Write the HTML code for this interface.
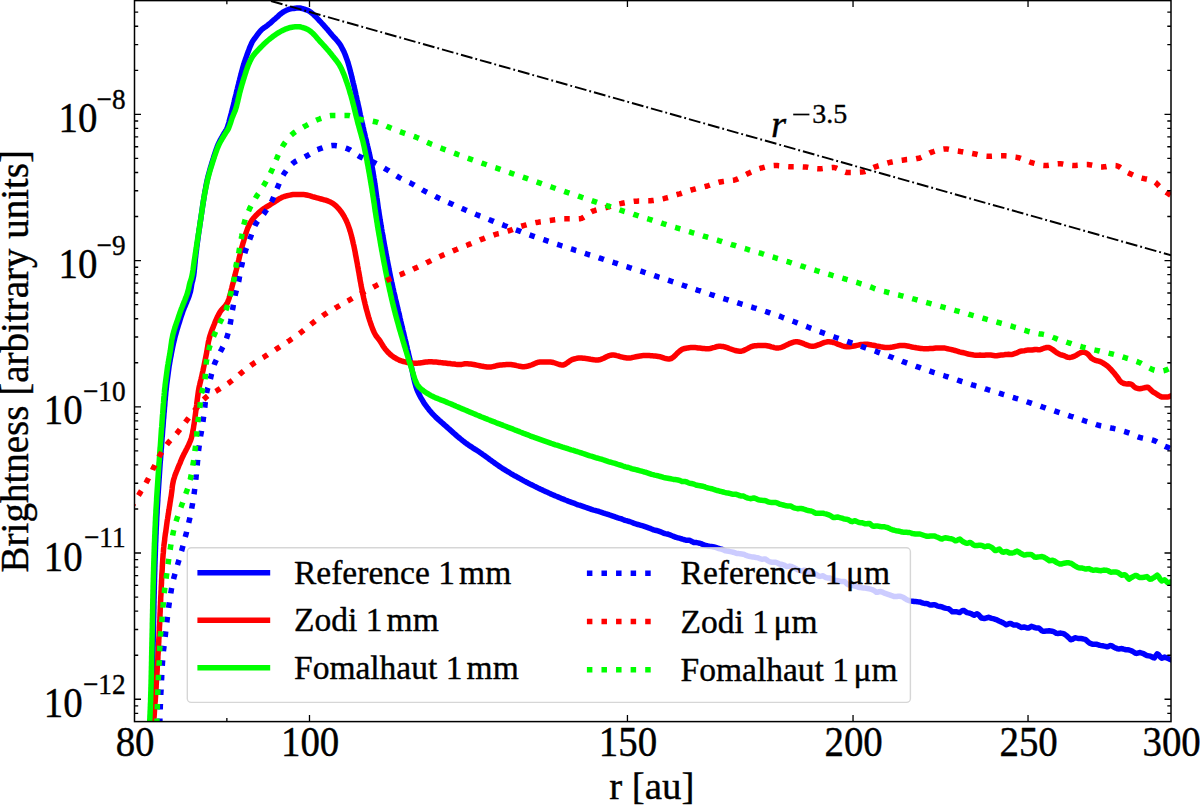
<!DOCTYPE html>
<html><head><meta charset="utf-8"><title>Brightness profiles</title>
<style>
html,body{margin:0;padding:0;background:#fff;}
body{width:1200px;height:807px;overflow:hidden;position:relative;font-family:"Liberation Serif",serif;}
</style></head><body>
<svg width="1200" height="807" viewBox="0 0 1200 807" style="position:absolute;left:0;top:0">
<defs><clipPath id="ax"><rect x="134.5" y="0.6" width="1036.5" height="721.0"/></clipPath></defs>
<rect x="0" y="0" width="1200" height="807" fill="#fff"/>
<g clip-path="url(#ax)" fill="none" stroke-linejoin="round">
<path d="M150.8 724.0L150.9 722.5L150.9 721.0L151.0 719.5L151.1 718.0L151.1 716.5L151.2 715.0L151.3 713.5L151.3 712.0L151.4 710.5L151.5 709.0L151.5 707.5L151.6 706.0L151.6 704.5L151.7 703.0L151.8 701.5L151.8 700.0L151.8 698.5L151.9 697.0L151.9 695.5L152.0 694.0L152.0 692.5L152.1 691.0L152.1 689.5L152.1 688.0L152.2 686.5L152.2 685.0L152.3 683.5L152.3 682.0L152.3 680.5L152.4 679.0L152.4 677.5L152.4 676.0L152.5 674.5L152.5 673.0L152.5 671.5L152.6 670.0L152.6 668.5L152.6 667.0L152.7 665.5L152.7 664.0L152.7 662.5L152.8 661.0L152.8 659.5L152.8 658.0L152.8 656.5L152.9 655.0L152.9 653.5L152.9 651.9L153.0 650.4L153.0 648.9L153.0 647.4L153.1 645.9L153.1 644.4L153.1 642.9L153.2 641.4L153.2 639.9L153.2 638.4L153.3 636.9L153.3 635.4L153.3 633.9L153.4 632.4L153.4 630.9L153.4 629.4L153.5 627.9L153.5 626.4L153.5 624.9L153.5 623.4L153.6 621.9L153.6 620.4L153.6 618.9L153.7 617.4L153.7 615.9L153.7 614.4L153.8 612.9L153.8 611.4L153.8 609.9L153.9 608.4L153.9 606.9L153.9 605.4L153.9 603.9L154.0 602.4L154.0 600.9L154.0 599.4L154.1 597.9L154.1 596.4L154.1 594.9L154.2 593.4L154.2 591.9L154.2 590.4L154.3 588.9L154.3 587.4L154.3 585.9L154.4 584.4L154.4 582.9L154.5 581.4L154.5 579.9L154.5 578.4L154.6 576.9L154.6 575.4L154.7 573.9L154.7 572.4L154.8 570.9L154.8 569.4L154.8 567.9L154.9 566.4L154.9 564.9L155.0 563.4L155.0 561.9L155.1 560.4L155.1 558.9L155.2 557.4L155.2 555.9L155.3 554.4L155.3 552.9L155.4 551.4L155.4 549.9L155.5 548.4L155.5 546.9L155.6 545.4L155.6 543.9L155.7 542.4L155.8 540.9L155.8 539.4L155.9 537.9L155.9 536.4L156.0 534.9L156.1 533.4L156.1 531.9L156.2 530.4L156.2 528.9L156.3 527.4L156.4 525.9L156.5 524.4L156.5 522.9L156.6 521.4L156.7 519.9L156.7 518.4L156.8 516.9L156.9 515.4L157.0 513.9L157.1 512.4L157.1 510.9L157.2 509.4L157.3 507.9L157.4 506.4L157.5 504.9L157.6 503.4L157.7 501.9L157.8 500.4L157.8 498.9L157.9 497.4L158.0 495.9L158.1 494.4L158.2 492.9L158.3 491.4L158.4 489.9L158.5 488.4L158.6 486.9L158.7 485.4L158.8 483.9L158.9 482.4L159.0 480.9L159.1 479.4L159.2 477.9L159.3 476.4L159.4 474.9L159.5 473.4L159.6 471.9L159.7 470.4L159.8 468.9L159.9 467.4L160.0 465.9L160.1 464.4L160.2 462.9L160.3 461.4L160.5 459.9L160.6 458.4L160.7 456.9L160.8 455.4L160.9 453.9L161.0 452.4L161.1 450.9L161.2 449.4L161.4 447.9L161.5 446.4L161.6 444.9L161.7 443.4L161.8 441.9L161.9 440.4L162.0 438.9L162.1 437.4L162.3 435.9L162.4 434.4L162.5 432.9L162.6 431.4L162.7 429.9L162.8 428.5L163.0 427.0L163.1 425.5L163.2 424.0L163.3 422.5L163.4 421.0L163.5 419.5L163.7 418.0L163.8 416.5L163.9 415.0L164.0 413.5L164.2 412.0L164.3 410.5L164.4 409.0L164.5 407.5L164.7 406.0L164.8 404.5L164.9 403.0L165.0 401.5L165.2 400.0L165.3 398.5L165.4 397.0L165.6 395.5L165.7 394.0L165.8 392.5L166.0 391.0L166.2 389.5L166.3 388.1L166.5 386.6L166.6 385.1L166.8 383.6L167.0 382.1L167.2 380.6L167.4 379.1L167.6 377.6L167.8 376.1L168.0 374.6L168.2 373.1L168.4 371.7L168.6 370.2L168.8 368.7L169.0 367.2L169.2 365.7L169.5 364.2L169.7 362.8L170.0 361.3L170.2 359.8L170.5 358.3L170.8 356.8L171.1 355.4L171.3 353.9L171.6 352.4L171.9 350.9L172.2 349.5L172.5 348.0L172.8 346.5L173.1 345.1L173.4 343.6L173.8 342.1L174.1 340.7L174.5 339.2L174.8 337.7L175.2 336.3L175.6 334.8L176.0 333.4L176.4 332.0L176.8 330.5L177.2 329.1L177.7 327.6L178.1 326.2L178.5 324.8L179.0 323.3L179.5 321.9L179.9 320.5L180.4 319.0L180.8 317.6L181.3 316.2L181.8 314.7L182.3 313.3L182.7 311.9L183.2 310.5L183.8 309.1L184.3 307.7L184.9 306.3L185.5 304.9L186.1 303.5L186.7 302.1L187.2 300.7L187.8 299.3L188.4 297.9L188.9 296.5L189.4 295.1L189.8 293.6L190.3 292.2L190.6 290.8L190.9 289.3L191.2 287.8L191.4 286.4L191.6 284.9L191.9 283.4L192.3 281.9L192.7 280.5L193.0 279.0L193.3 277.5L193.6 276.1L193.8 274.6L194.0 273.1L194.2 271.6L194.3 270.1L194.5 268.6L194.6 267.1L194.8 265.6L194.9 264.1L195.1 262.6L195.2 261.1L195.3 259.6L195.5 258.2L195.7 256.7L195.8 255.2L196.0 253.7L196.2 252.2L196.4 250.7L196.6 249.2L196.7 247.7L196.9 246.2L197.1 244.7L197.3 243.2L197.5 241.8L197.7 240.3L197.9 238.8L198.1 237.3L198.3 235.8L198.5 234.3L198.7 232.8L198.9 231.3L199.1 229.9L199.4 228.4L199.6 226.9L199.8 225.4L200.0 223.9L200.2 222.4L200.5 220.9L200.7 219.5L200.9 218.0L201.1 216.5L201.3 215.0L201.6 213.5L201.8 212.0L202.0 210.5L202.2 209.0L202.4 207.6L202.6 206.1L202.9 204.6L203.1 203.1L203.3 201.6L203.6 200.1L203.8 198.7L204.0 197.2L204.3 195.7L204.5 194.2L204.8 192.7L205.0 191.2L205.3 189.8L205.6 188.3L205.8 186.8L206.1 185.3L206.4 183.9L206.7 182.4L207.0 180.9L207.3 179.5L207.7 178.0L208.0 176.5L208.4 175.1L208.8 173.6L209.2 172.2L209.6 170.7L210.0 169.3L210.4 167.8L210.8 166.4L211.3 165.0L211.7 163.5L212.1 162.1L212.6 160.7L213.0 159.2L213.5 157.8L213.9 156.3L214.4 154.9L214.8 153.5L215.3 152.0L215.8 150.6L216.3 149.2L216.8 147.8L217.3 146.4L217.9 145.0L218.5 143.7L219.2 142.3L219.8 141.0L220.5 139.6L221.3 138.3L222.0 137.0L222.7 135.7L223.5 134.4L224.2 133.1L225.1 131.8L225.9 130.5L226.6 129.2L227.2 127.9L227.7 126.5L228.1 125.0L228.6 123.6L229.0 122.1L229.3 120.7L229.7 119.2L230.1 117.7L230.5 116.3L230.9 114.8L231.3 113.4L231.6 111.9L232.0 110.5L232.4 109.0L232.7 107.6L233.1 106.1L233.5 104.7L233.8 103.2L234.2 101.7L234.5 100.3L234.9 98.8L235.2 97.4L235.6 95.9L236.0 94.4L236.3 93.0L236.7 91.5L237.0 90.1L237.4 88.6L237.7 87.2L238.1 85.7L238.5 84.2L238.8 82.8L239.2 81.3L239.6 79.9L239.9 78.4L240.3 77.0L240.7 75.5L241.1 74.0L241.4 72.6L241.8 71.1L242.2 69.7L242.6 68.2L243.0 66.8L243.4 65.4L243.9 63.9L244.3 62.5L244.8 61.1L245.3 59.6L245.8 58.2L246.3 56.8L246.8 55.4L247.3 54.0L247.8 52.6L248.4 51.2L248.9 49.8L249.4 48.3L250.0 46.9L250.6 45.5L251.2 44.2L251.8 42.8L252.5 41.5L253.3 40.3L254.2 39.0L255.1 37.8L256.0 36.6L256.9 35.4L257.8 34.2L258.7 33.0L259.7 31.8L260.6 30.7L261.7 29.6L262.8 28.7L264.0 27.8L265.3 26.9L266.5 26.1L267.7 25.2L268.9 24.2L270.0 23.3L271.2 22.3L272.3 21.2L273.4 20.2L274.5 19.3L275.7 18.3L276.8 17.3L278.0 16.3L279.1 15.2L280.3 14.2L281.5 13.3L282.7 12.4L283.9 11.6L285.2 10.9L286.5 10.3L287.9 9.7L289.4 9.2L290.8 8.8L292.3 8.6L293.8 8.4L295.3 8.2L296.8 8.1L298.3 8.0L299.8 8.1L301.3 8.3L302.7 8.7L304.2 9.1L305.6 9.6L307.1 10.1L308.4 10.7L309.6 11.4L310.8 12.3L312.0 13.2L313.1 14.1L314.2 15.2L315.3 16.3L316.4 17.4L317.4 18.5L318.5 19.7L319.5 20.8L320.6 21.9L321.6 23.0L322.6 24.1L323.6 25.2L324.6 26.3L325.6 27.4L326.6 28.6L327.6 29.7L328.5 30.9L329.5 32.0L330.5 33.2L331.4 34.3L332.4 35.5L333.4 36.6L334.4 37.7L335.5 38.8L336.5 40.0L337.5 41.1L338.4 42.3L339.3 43.4L340.2 44.7L340.9 45.9L341.6 47.2L342.3 48.5L343.0 49.9L343.7 51.2L344.3 52.6L344.9 54.0L345.4 55.4L346.0 56.8L346.5 58.3L347.0 59.7L347.5 61.1L348.0 62.5L348.4 63.9L348.8 65.4L349.2 66.8L349.6 68.3L350.0 69.7L350.4 71.2L350.7 72.7L351.1 74.1L351.5 75.6L351.8 77.0L352.2 78.5L352.5 80.0L352.9 81.4L353.2 82.9L353.6 84.3L353.9 85.8L354.3 87.3L354.6 88.7L354.9 90.2L355.3 91.7L355.6 93.1L355.9 94.6L356.3 96.1L356.6 97.5L356.9 99.0L357.2 100.4L357.6 101.9L357.9 103.4L358.2 104.8L358.5 106.3L358.9 107.8L359.2 109.2L359.5 110.7L359.8 112.2L360.1 113.7L360.4 115.1L360.8 116.6L361.1 118.1L361.4 119.5L361.7 121.0L362.0 122.5L362.4 123.9L362.7 125.4L363.0 126.9L363.4 128.3L363.7 129.8L364.0 131.2L364.4 132.7L364.7 134.2L365.1 135.6L365.4 137.1L365.8 138.6L366.1 140.0L366.5 141.5L366.8 142.9L367.2 144.4L367.5 145.9L367.9 147.3L368.2 148.8L368.6 150.3L368.9 151.7L369.2 153.2L369.6 154.6L369.9 156.1L370.2 157.6L370.5 159.0L370.8 160.5L371.1 162.0L371.4 163.5L371.7 164.9L372.0 166.4L372.3 167.9L372.5 169.3L372.8 170.8L373.1 172.3L373.3 173.8L373.5 175.3L373.8 176.7L374.0 178.2L374.3 179.7L374.5 181.2L374.7 182.7L374.9 184.2L375.2 185.6L375.4 187.1L375.6 188.6L375.8 190.1L376.0 191.6L376.2 193.1L376.4 194.6L376.6 196.1L376.8 197.5L377.1 199.0L377.3 200.5L377.5 202.0L377.7 203.5L377.9 205.0L378.1 206.5L378.3 208.0L378.5 209.5L378.8 210.9L379.0 212.4L379.2 213.9L379.4 215.4L379.7 216.9L379.9 218.4L380.1 219.8L380.4 221.3L380.6 222.8L380.9 224.3L381.1 225.8L381.4 227.2L381.6 228.7L381.9 230.2L382.1 231.7L382.4 233.2L382.7 234.6L382.9 236.1L383.2 237.6L383.4 239.1L383.7 240.6L384.0 242.0L384.2 243.5L384.5 245.0L384.8 246.5L385.0 248.0L385.3 249.4L385.6 250.9L385.8 252.4L386.1 253.9L386.4 255.3L386.7 256.8L386.9 258.3L387.2 259.8L387.5 261.2L387.8 262.7L388.1 264.2L388.4 265.7L388.7 267.1L388.9 268.6L389.2 270.1L389.5 271.6L389.8 273.0L390.1 274.5L390.4 276.0L390.7 277.5L391.0 278.9L391.3 280.4L391.6 281.9L392.0 283.3L392.3 284.8L392.6 286.3L392.9 287.7L393.3 289.2L393.6 290.7L393.9 292.1L394.3 293.6L394.6 295.0L395.0 296.5L395.3 298.0L395.6 299.4L396.0 300.9L396.3 302.3L396.7 303.8L397.0 305.3L397.4 306.7L397.7 308.2L398.1 309.7L398.4 311.1L398.8 312.6L399.1 314.0L399.5 315.5L399.8 317.0L400.1 318.4L400.5 319.9L400.8 321.4L401.2 322.8L401.5 324.3L401.9 325.7L402.2 327.2L402.6 328.7L402.9 330.1L403.3 331.6L403.6 333.0L404.0 334.5L404.3 336.0L404.7 337.4L405.0 338.9L405.4 340.3L405.7 341.8L406.1 343.3L406.4 344.7L406.8 346.2L407.1 347.6L407.4 349.1L407.8 350.6L408.1 352.0L408.5 353.5L408.8 355.0L409.2 356.4L409.5 357.9L409.8 359.3L410.2 360.8L410.5 362.3L410.8 363.8L411.1 365.2L411.4 366.7L411.7 368.2L412.0 369.7L412.3 371.2L412.6 372.7L412.9 374.1L413.2 375.6L413.5 377.1L413.8 378.6L414.2 380.0L414.5 381.5L414.9 382.9L415.3 384.4L415.7 385.8L416.1 387.2L416.6 388.6L417.1 390.0L417.7 391.4L418.3 392.7L419.0 394.1L419.7 395.4L420.4 396.8L421.1 398.1L421.9 399.4L422.7 400.7L423.4 402.0L424.2 403.3L425.1 404.5L425.9 405.7L426.8 406.9L427.7 408.1L428.7 409.3L429.6 410.5L430.6 411.6L431.6 412.8L432.6 413.9L433.6 415.0L434.7 416.0L435.7 417.1L436.8 418.1L437.9 419.1L439.0 420.1L440.2 421.1L441.3 422.1L442.5 423.1L443.6 424.1L444.7 425.1L445.9 426.1L447.0 427.1L448.1 428.1L449.3 429.1L450.4 430.1L451.5 431.1L452.6 432.1L453.7 433.1L454.9 434.1L456.0 435.1L457.1 436.1L458.3 437.1L459.4 438.0L460.6 439.0L461.7 439.9L462.9 440.9L464.1 441.8L465.3 442.7L466.5 443.6L467.7 444.4L468.9 445.3L470.2 446.1L471.4 446.9L472.7 447.8L474.0 448.6L475.2 449.4L476.5 450.2L477.8 451.0L479.0 451.8L480.3 452.7L481.5 453.5L482.7 454.4L484.0 455.3L485.2 456.1L486.4 457.0L487.6 457.9L488.8 458.8L490.0 459.7L491.3 460.6L492.5 461.5L493.7 462.3L494.9 463.2L496.1 464.1L497.4 465.0L498.6 465.8L499.8 466.7L501.1 467.5L502.3 468.3L503.6 469.1L504.9 469.9L506.1 470.7L507.4 471.5L508.7 472.2L510.0 473.0L511.3 473.8L512.6 474.5L513.9 475.3L515.2 476.0L516.5 476.7L517.8 477.5L519.1 478.2L520.4 478.9L521.8 479.7L523.1 480.4L524.4 481.1L525.8 481.8L527.1 482.5L528.4 483.2L529.8 483.9L531.1 484.5L532.5 485.2L533.8 485.9L535.2 486.6L536.5 487.2L537.9 487.9L539.2 488.5L540.6 489.2L541.9 489.8L543.3 490.5L544.6 491.1L546.0 491.7L547.4 492.3L548.7 492.9L550.1 493.6L551.5 494.2L552.8 494.8L554.2 495.4L555.6 496.0L557.0 496.5L558.4 497.1L559.8 497.7L561.1 498.3L562.5 498.8L563.9 499.4L565.3 500.0L566.7 500.5L568.1 501.1L569.5 501.6L570.9 502.1L572.3 502.7L573.8 503.2L575.2 503.7L576.6 504.3L578.0 504.8L579.4 505.2L580.8 505.7L582.2 506.2L583.6 506.7L585.1 507.2L586.5 507.6L587.9 508.1L589.4 508.6L590.8 509.1L592.2 509.7L593.7 510.1L595.1 510.4L596.5 510.8L598.0 511.2L599.4 511.7L600.8 512.1L602.3 512.6L603.7 513.1L605.1 513.5L606.5 514.0L608.0 514.4L609.4 514.9L610.8 515.3L612.2 515.8L613.7 516.3L615.1 516.9L616.5 517.4L617.9 517.9L619.4 518.3L620.8 518.7L622.2 519.2L623.7 519.8L625.1 520.3L626.5 520.7L627.9 521.1L629.4 521.5L630.8 522.0L632.2 522.5L633.6 523.1L635.1 523.7L636.5 524.1L637.9 524.5L639.4 524.9L640.8 525.3L642.2 525.7L643.6 526.1L645.1 526.6L646.5 527.1L647.9 527.6L649.4 528.2L650.8 528.7L652.2 529.3L653.6 529.9L655.1 530.2L656.5 530.5L657.9 530.9L659.3 531.4L660.7 531.9L662.2 532.5L663.6 533.1L665.0 533.6L666.4 533.9L667.9 534.1L669.3 534.7L670.7 535.2L672.1 535.8L673.6 536.4L675.0 537.0L676.4 537.4L677.8 537.8L679.3 538.2L680.7 538.6L682.1 539.0L683.6 539.5L685.0 539.9L686.5 540.3L687.9 540.2L689.4 540.2L690.8 540.9L692.3 541.8L693.7 542.4L695.2 542.5L696.6 542.6L698.1 542.9L699.5 543.2L701.0 543.6L702.4 544.2L703.9 544.9L705.4 545.3L706.8 545.7L708.3 546.1L709.7 546.3L711.2 546.4L712.6 546.7L714.1 547.0L715.6 547.4L717.0 547.9L718.5 548.5L719.9 548.8L721.4 549.2L722.8 549.7L724.3 550.3L725.7 550.8L727.2 551.1L728.7 551.3L730.1 551.6L731.6 551.9L733.0 552.2L734.5 552.7L736.0 553.2L737.4 553.5L738.9 553.6L740.3 553.8L741.8 554.0L743.2 554.2L744.7 554.7L746.2 555.4L747.6 555.9L749.1 556.3L750.5 556.6L752.0 556.9L753.5 557.1L754.9 557.3L756.4 557.6L757.8 557.8L759.3 558.4L760.7 558.9L762.2 559.2L763.6 559.1L765.1 558.9L766.5 559.8L768.0 560.9L769.4 561.6L770.9 562.0L772.3 562.3L773.8 562.3L775.2 562.2L776.7 562.6L778.1 563.3L779.6 564.1L781.0 564.3L782.4 564.5L783.9 565.0L785.3 565.8L786.8 566.6L788.2 566.4L789.7 566.1L791.1 566.4L792.6 567.0L794.0 567.7L795.4 568.5L796.9 569.3L798.3 570.0L799.8 570.5L801.2 571.0L802.6 570.6L804.1 570.3L805.5 570.5L807.0 571.3L808.4 572.1L809.9 572.7L811.3 573.4L812.7 573.8L814.2 574.0L815.6 574.1L817.1 575.1L818.5 576.1L820.0 576.4L821.4 576.1L822.8 575.8L824.3 576.6L825.7 577.5L827.2 577.9L828.6 577.9L830.1 578.0L831.5 579.0L833.0 580.1L834.4 580.6L835.9 580.6L837.3 580.6L838.8 580.9L840.2 581.2L841.7 581.4L843.1 581.4L844.6 581.5L846.0 582.9L847.4 584.3L848.9 584.9L850.3 585.0L851.8 585.2L853.2 585.6L854.7 586.0L856.1 586.5L857.6 587.0L859.0 587.4L860.5 587.6L861.9 587.8L863.4 587.9L864.8 588.0L866.3 588.2L867.7 588.5L869.2 588.8L870.6 589.2L872.1 589.6L873.5 590.2L875.0 591.2L876.4 592.3L877.9 592.2L879.3 591.7L880.8 591.5L882.2 592.1L883.7 592.8L885.1 593.3L886.6 593.8L888.0 594.3L889.5 594.8L890.9 595.4L892.4 595.9L893.8 596.4L895.3 596.6L896.8 596.4L898.2 596.2L899.7 596.3L901.1 596.5L902.6 597.0L904.0 597.9L905.5 598.9L907.0 599.7L908.4 600.4L909.9 600.9L911.3 601.1L912.8 601.3L914.3 601.5L915.7 601.6L917.2 601.7L918.6 601.9L920.1 602.0L921.6 602.6L923.1 603.1L924.5 603.4L926.0 603.5L927.5 603.7L928.9 604.4L930.4 605.1L931.9 605.1L933.3 604.8L934.8 604.8L936.3 605.4L937.7 606.1L939.2 606.4L940.7 606.6L942.2 607.0L943.6 607.6L945.1 608.1L946.6 608.4L948.0 608.6L949.5 609.3L950.9 610.5L952.4 611.8L953.9 611.7L955.3 611.7L956.8 611.8L958.2 612.2L959.7 612.5L961.2 611.4L962.6 610.4L964.1 610.6L965.5 611.7L967.0 612.6L968.4 612.9L969.9 613.2L971.3 613.8L972.8 614.6L974.2 615.2L975.7 614.4L977.1 613.7L978.6 614.7L980.1 616.5L981.5 618.0L983.0 618.3L984.4 618.6L985.9 618.2L987.3 617.6L988.8 617.3L990.2 617.8L991.7 618.3L993.2 618.7L994.6 619.1L996.1 619.6L997.6 620.3L999.0 621.0L1000.5 621.6L1001.9 622.2L1003.4 623.0L1004.9 623.9L1006.4 624.8L1007.8 624.2L1009.3 623.5L1010.8 623.5L1012.2 624.2L1013.7 624.9L1015.2 624.9L1016.7 624.9L1018.1 625.6L1019.6 626.6L1021.1 627.4L1022.6 627.2L1024.1 627.0L1025.5 627.4L1027.0 627.9L1028.5 628.0L1030.0 627.2L1031.4 626.3L1032.9 626.8L1034.4 627.5L1035.9 627.9L1037.3 627.9L1038.8 627.9L1040.3 629.3L1041.8 630.7L1043.2 631.3L1044.7 631.2L1046.2 631.1L1047.6 631.0L1049.1 630.8L1050.5 631.0L1052.0 631.2L1053.5 631.6L1054.9 632.4L1056.4 633.3L1057.8 633.4L1059.3 633.2L1060.7 633.1L1062.2 633.4L1063.6 633.7L1065.1 634.6L1066.5 635.7L1067.9 636.9L1069.4 638.3L1070.8 639.7L1072.3 639.4L1073.7 638.5L1075.2 637.8L1076.6 638.1L1078.0 638.4L1079.5 638.5L1080.9 638.6L1082.4 638.8L1083.8 639.1L1085.3 639.4L1086.7 640.6L1088.1 641.9L1089.6 643.1L1091.0 643.6L1092.5 644.2L1093.9 644.3L1095.4 644.2L1096.9 644.3L1098.3 644.8L1099.8 645.4L1101.2 645.6L1102.7 645.8L1104.2 646.1L1105.6 646.4L1107.1 646.8L1108.6 646.3L1110.0 645.6L1111.5 645.7L1113.0 646.6L1114.4 647.5L1115.9 648.1L1117.4 648.8L1118.8 648.9L1120.3 648.7L1121.8 648.6L1123.3 649.0L1124.7 649.5L1126.2 649.7L1127.7 649.8L1129.2 650.0L1130.6 650.5L1132.1 651.1L1133.6 652.0L1135.1 653.0L1136.5 653.4L1138.0 653.0L1139.5 652.5L1141.0 652.9L1142.5 653.3L1143.9 653.9L1145.4 654.8L1146.9 655.6L1148.4 655.8L1149.8 655.9L1151.3 656.6L1152.8 657.5L1154.3 657.9L1155.7 655.9L1157.2 653.9L1158.7 654.9L1160.2 656.9L1161.7 658.2L1163.1 657.6L1164.6 657.1L1166.1 657.6L1167.6 658.2L1169.0 658.9L1170.5 659.6L1172.0 660.3" stroke="#0000ff" stroke-width="5.5" stroke-linecap="butt"/>
<path d="M153.5 724.0L153.6 722.5L153.7 721.0L153.8 719.5L154.0 718.0L154.1 716.5L154.2 715.0L154.3 713.5L154.4 712.0L154.5 710.5L154.6 709.0L154.7 707.5L154.8 706.0L154.9 704.5L155.0 703.0L155.2 701.5L155.3 700.0L155.4 698.5L155.5 697.0L155.6 695.5L155.7 694.0L155.8 692.5L155.9 691.0L156.0 689.5L156.1 688.0L156.2 686.5L156.2 685.0L156.3 683.5L156.4 682.0L156.5 680.5L156.6 679.0L156.7 677.5L156.8 676.0L156.9 674.5L157.0 673.0L157.1 671.5L157.2 670.0L157.2 668.5L157.3 667.0L157.4 665.5L157.5 664.0L157.6 662.5L157.7 661.0L157.8 659.5L157.9 658.0L157.9 656.5L158.0 655.0L158.1 653.5L158.2 652.0L158.3 650.5L158.4 649.0L158.4 647.5L158.5 646.0L158.6 644.5L158.7 643.0L158.8 641.5L158.8 640.0L158.9 638.5L159.0 637.0L159.1 635.5L159.1 634.0L159.2 632.5L159.3 631.0L159.4 629.5L159.4 628.0L159.5 626.5L159.6 625.0L159.7 623.5L159.7 622.0L159.8 620.5L159.9 619.0L159.9 617.5L160.0 616.0L160.0 614.5L160.1 613.0L160.2 611.5L160.2 610.0L160.3 608.5L160.3 607.0L160.4 605.5L160.5 604.0L160.5 602.5L160.6 601.0L160.7 599.5L160.7 598.0L160.8 596.5L160.9 595.0L161.0 593.5L161.0 592.0L161.1 590.5L161.2 589.0L161.2 587.5L161.3 586.0L161.4 584.5L161.5 583.0L161.5 581.5L161.6 580.0L161.7 578.5L161.8 577.0L161.8 575.5L161.9 574.0L162.0 572.5L162.1 571.0L162.2 569.5L162.3 568.0L162.3 566.5L162.4 565.0L162.5 563.5L162.6 562.0L162.7 560.5L162.8 559.0L162.9 557.5L163.0 556.0L163.1 554.5L163.3 553.0L163.4 551.5L163.5 550.0L163.6 548.5L163.8 547.0L163.9 545.5L164.1 544.1L164.3 542.6L164.5 541.1L164.7 539.6L164.8 538.1L165.0 536.6L165.2 535.1L165.4 533.6L165.7 532.1L165.9 530.6L166.1 529.2L166.3 527.7L166.5 526.2L166.7 524.7L166.9 523.2L167.1 521.7L167.3 520.2L167.6 518.7L167.8 517.3L168.0 515.8L168.3 514.3L168.5 512.8L168.7 511.3L169.0 509.8L169.2 508.4L169.4 506.9L169.7 505.4L169.9 503.9L170.1 502.4L170.4 500.9L170.6 499.4L170.8 498.0L171.1 496.5L171.3 495.0L171.5 493.5L171.7 492.0L171.9 490.5L172.1 489.0L172.2 487.5L172.4 486.0L172.6 484.6L172.9 483.1L173.2 481.6L173.5 480.2L173.9 478.8L174.4 477.3L174.8 475.9L175.3 474.5L175.9 473.1L176.4 471.7L177.0 470.3L177.6 468.8L178.2 467.4L178.7 466.0L179.3 464.6L179.9 463.3L180.5 461.9L181.0 460.5L181.6 459.1L182.2 457.7L182.9 456.3L183.5 455.0L184.2 453.6L184.9 452.3L185.6 450.9L186.3 449.5L187.0 448.2L187.7 446.8L188.4 445.5L189.0 444.1L189.6 442.7L190.2 441.4L190.7 440.0L191.2 438.6L191.6 437.2L191.9 435.7L192.3 434.3L192.6 432.9L192.8 431.4L193.1 429.9L193.4 428.5L193.6 427.0L193.8 425.5L194.1 424.0L194.3 422.5L194.5 421.0L194.7 419.5L194.9 418.0L195.1 416.5L195.3 415.0L195.5 413.5L195.7 412.0L195.9 410.5L196.1 409.0L196.3 407.5L196.5 406.0L196.7 404.5L196.8 403.0L197.0 401.5L197.2 400.1L197.4 398.6L197.6 397.1L197.8 395.6L198.0 394.1L198.2 392.6L198.4 391.1L198.7 389.6L198.9 388.2L199.2 386.7L199.6 385.2L199.9 383.8L200.3 382.3L200.6 380.9L201.0 379.4L201.3 377.9L201.7 376.5L202.0 375.0L202.3 373.5L202.6 372.1L203.0 370.6L203.3 369.1L203.6 367.7L203.9 366.2L204.2 364.7L204.5 363.2L204.8 361.8L205.1 360.3L205.4 358.8L205.7 357.4L206.0 355.9L206.3 354.4L206.6 352.9L206.8 351.4L207.1 350.0L207.3 348.5L207.6 347.0L207.8 345.5L208.1 344.0L208.3 342.5L208.6 341.1L209.0 339.6L209.3 338.2L209.7 336.7L210.1 335.3L210.6 333.9L211.1 332.4L211.6 331.0L212.1 329.6L212.7 328.2L213.3 326.8L213.8 325.4L214.4 324.0L214.9 322.6L215.5 321.2L216.1 319.8L216.7 318.4L217.3 317.1L218.0 315.7L218.7 314.4L219.4 313.1L220.1 311.8L221.0 310.6L222.0 309.4L223.0 308.3L224.1 307.1L225.1 306.0L226.1 304.8L226.9 303.6L227.6 302.4L228.1 301.0L228.6 299.7L229.1 298.3L229.5 296.8L229.9 295.4L230.3 293.9L230.7 292.4L231.0 290.9L231.4 289.4L231.8 287.9L232.1 286.5L232.5 285.0L232.9 283.6L233.3 282.1L233.6 280.6L234.0 279.2L234.4 277.7L234.7 276.3L235.1 274.8L235.4 273.4L235.8 271.9L236.2 270.4L236.5 269.0L236.9 267.5L237.2 266.1L237.6 264.6L238.0 263.1L238.3 261.7L238.7 260.2L239.0 258.8L239.4 257.3L239.7 255.8L240.1 254.4L240.4 252.9L240.8 251.4L241.1 250.0L241.5 248.5L241.9 247.1L242.3 245.6L242.7 244.2L243.1 242.8L243.6 241.3L244.0 239.8L244.4 238.3L244.8 236.9L245.3 235.4L245.7 233.9L246.2 232.5L246.7 231.0L247.2 229.6L247.7 228.2L248.3 226.9L248.9 225.5L249.5 224.2L250.2 223.0L250.9 221.7L251.7 220.5L252.6 219.3L253.6 218.1L254.6 216.9L255.6 215.8L256.7 214.7L257.8 213.6L258.9 212.6L260.0 211.6L261.2 210.6L262.3 209.7L263.5 208.9L264.8 208.0L266.1 207.2L267.4 206.4L268.7 205.6L270.0 204.8L271.2 204.0L272.5 203.2L273.8 202.4L275.1 201.6L276.4 200.7L277.6 199.9L278.9 199.0L280.3 198.3L281.6 197.6L282.9 197.0L284.3 196.5L285.7 196.1L287.1 195.7L288.6 195.4L290.1 195.1L291.6 194.8L293.1 194.6L294.6 194.5L296.1 194.5L297.6 194.5L299.1 194.5L300.6 194.5L302.1 194.5L303.6 194.6L305.1 194.7L306.5 195.0L308.0 195.3L309.5 195.7L310.9 196.1L312.4 196.6L313.9 197.0L315.3 197.4L316.8 197.8L318.2 198.2L319.7 198.6L321.2 199.0L322.7 199.4L324.1 199.8L325.6 200.2L327.0 200.7L328.4 201.2L329.7 201.7L331.0 202.4L332.3 203.1L333.6 204.0L334.8 204.9L336.0 205.9L337.1 207.0L338.1 208.1L339.1 209.2L340.0 210.3L340.9 211.5L341.8 212.7L342.6 214.0L343.4 215.3L344.2 216.6L344.9 218.0L345.6 219.3L346.3 220.7L346.9 222.1L347.5 223.4L348.0 224.8L348.5 226.2L349.0 227.6L349.5 229.0L349.9 230.5L350.4 231.9L350.8 233.4L351.2 234.9L351.6 236.3L351.9 237.8L352.3 239.2L352.7 240.7L353.0 242.2L353.3 243.6L353.7 245.1L354.0 246.5L354.3 248.0L354.6 249.5L354.9 251.0L355.2 252.4L355.4 253.9L355.7 255.4L356.0 256.9L356.3 258.4L356.5 259.8L356.8 261.3L357.1 262.8L357.4 264.3L357.6 265.7L357.9 267.2L358.2 268.7L358.4 270.2L358.7 271.7L359.0 273.1L359.2 274.6L359.5 276.1L359.7 277.6L360.0 279.1L360.2 280.6L360.5 282.0L360.8 283.5L361.0 285.0L361.3 286.5L361.6 287.9L361.9 289.4L362.2 290.9L362.5 292.4L362.8 293.8L363.1 295.3L363.4 296.8L363.7 298.2L364.1 299.7L364.4 301.2L364.8 302.6L365.1 304.1L365.5 305.6L365.8 307.0L366.2 308.5L366.6 309.9L367.0 311.4L367.4 312.8L367.8 314.3L368.2 315.7L368.6 317.1L369.1 318.6L369.5 320.0L370.0 321.5L370.5 322.9L370.9 324.3L371.5 325.8L372.0 327.2L372.5 328.6L373.1 330.0L373.7 331.3L374.3 332.7L375.0 334.0L375.7 335.3L376.6 336.5L377.5 337.7L378.5 338.9L379.4 340.1L380.2 341.3L381.0 342.6L381.8 343.9L382.6 345.2L383.4 346.5L384.2 347.7L385.1 348.9L386.1 350.1L387.1 351.2L388.1 352.4L389.2 353.4L390.3 354.5L391.4 355.4L392.6 356.3L393.8 357.1L395.1 357.9L396.4 358.7L397.8 359.4L399.2 360.1L400.6 360.7L402.0 361.1L403.4 361.5L404.8 361.8L406.3 362.2L407.8 362.5L409.3 362.7L410.8 363.0L412.3 363.1L413.8 363.2L415.3 363.2L416.8 363.2L418.3 363.1L419.8 362.9L421.3 362.7L422.8 362.5L424.3 362.2L425.8 362.0L427.3 361.9L428.8 361.8L430.3 361.8L431.8 361.8L433.3 361.9L434.8 362.0L436.2 362.1L437.7 362.2L439.2 362.4L440.7 362.6L442.2 362.7L443.7 362.9L445.2 363.0L446.7 363.2L448.2 363.4L449.7 363.6L451.2 363.8L452.7 363.9L454.2 364.1L455.7 364.3L457.2 364.4L458.7 364.5L460.2 364.5L461.7 364.4L463.2 364.1L464.7 363.8L466.1 363.8L467.6 363.8L469.1 363.9L470.6 364.1L472.1 364.3L473.6 364.5L475.1 364.8L476.6 365.1L478.1 365.4L479.6 365.7L481.1 366.0L482.5 366.2L484.0 366.5L485.5 366.7L487.0 366.9L488.5 367.0L490.0 367.0L491.4 366.9L492.9 366.6L494.4 366.3L495.8 365.9L497.3 365.5L498.8 365.2L500.3 365.0L501.8 364.9L503.3 364.8L504.8 364.7L506.3 364.6L507.8 364.5L509.3 364.5L510.8 364.5L512.3 364.7L513.8 364.9L515.2 365.2L516.7 365.6L518.2 365.9L519.7 366.3L521.2 366.5L522.6 366.7L524.1 366.7L525.6 366.6L527.1 366.3L528.5 365.9L530.0 365.5L531.4 365.0L532.9 364.4L534.3 363.8L535.7 363.1L537.1 362.6L538.5 362.2L539.9 362.0L541.4 362.0L542.9 362.0L544.4 362.0L545.9 362.0L547.4 362.0L548.9 362.0L550.4 362.0L551.9 362.2L553.4 362.5L554.9 363.0L556.4 363.5L557.8 364.0L559.3 364.5L560.7 364.8L562.1 365.0L563.5 364.9L564.8 364.4L566.1 363.6L567.4 362.7L568.7 361.7L570.0 360.8L571.3 360.0L572.7 359.4L574.1 359.0L575.6 358.6L577.1 358.3L578.6 358.1L580.1 358.0L581.6 358.0L583.1 358.2L584.6 358.3L586.1 358.6L587.6 358.8L589.1 359.0L590.6 359.3L592.1 359.5L593.6 359.7L595.0 359.9L596.5 360.0L598.0 360.0L599.4 359.8L600.8 359.4L602.3 358.8L603.7 358.2L605.1 357.5L606.5 356.8L607.9 356.1L609.3 355.6L610.8 355.2L612.2 355.0L613.7 355.1L615.1 355.2L616.6 355.6L618.1 355.9L619.5 356.4L621.0 356.8L622.5 357.2L624.0 357.6L625.5 357.8L626.9 358.0L628.4 358.0L629.9 357.9L631.4 357.7L632.9 357.4L634.3 357.1L635.8 356.8L637.3 356.5L638.8 356.2L640.3 355.9L641.8 355.7L643.3 355.6L644.8 355.5L646.3 355.5L647.8 355.5L649.3 355.6L650.8 355.7L652.3 355.8L653.8 355.9L655.3 356.0L656.8 356.2L658.3 356.4L659.8 356.7L661.3 357.1L662.7 357.6L664.2 358.1L665.7 358.5L667.1 358.8L668.5 359.0L669.8 358.9L671.1 358.5L672.3 357.8L673.6 356.9L674.8 355.8L675.9 354.6L677.1 353.4L678.3 352.3L679.5 351.2L680.8 350.2L682.0 349.4L683.4 348.9L684.7 348.5L686.2 348.2L687.7 347.9L689.2 347.7L690.7 347.6L692.2 347.5L693.7 347.5L695.2 347.6L696.7 347.7L698.2 347.9L699.7 348.1L701.2 348.3L702.7 348.5L704.2 348.6L705.7 348.7L707.2 348.7L708.7 348.7L710.2 348.5L711.7 348.1L713.1 347.7L714.6 347.3L716.1 346.8L717.5 346.5L719.0 346.3L720.5 346.3L721.9 346.4L723.4 346.6L724.9 347.0L726.3 347.4L727.8 347.9L729.3 348.5L730.7 349.0L732.2 349.5L733.6 350.0L735.1 350.5L736.5 350.8L738.0 351.1L739.4 351.2L740.9 351.2L742.3 350.9L743.7 350.5L745.1 349.8L746.5 349.1L747.9 348.4L749.3 347.6L750.7 346.9L752.1 346.4L753.5 346.0L755.0 345.8L756.4 345.7L757.9 345.6L759.4 345.6L760.9 345.5L762.5 345.5L764.0 345.5L765.5 345.5L766.9 345.7L768.4 346.0L769.9 346.3L771.4 346.8L772.9 347.2L774.3 347.6L775.8 347.9L777.2 348.0L778.7 347.9L780.1 347.7L781.6 347.3L783.0 346.7L784.4 346.1L785.8 345.4L787.2 344.7L788.7 344.0L790.1 343.3L791.5 342.8L792.9 342.3L794.3 341.9L795.8 341.8L797.2 341.8L798.6 342.0L800.1 342.4L801.5 342.9L803.0 343.4L804.4 344.0L805.9 344.6L807.3 345.2L808.8 345.7L810.2 346.0L811.7 346.2L813.1 346.2L814.6 346.0L816.0 345.7L817.5 345.2L818.9 344.7L820.4 344.1L821.8 343.5L823.3 342.9L824.7 342.4L826.2 342.1L827.6 341.8L829.1 341.8L830.5 341.9L832.0 342.1L833.4 342.5L834.9 343.0L836.3 343.5L837.7 344.1L839.2 344.7L840.6 345.2L842.1 345.8L843.6 346.2L845.0 346.5L846.5 346.7L847.9 346.7L849.4 346.7L850.9 346.5L852.4 346.3L853.9 346.0L855.4 345.7L856.8 345.4L858.3 345.1L859.8 344.8L861.3 344.5L862.8 344.4L864.3 344.3L865.8 344.3L867.3 344.3L868.8 344.5L870.3 344.7L871.7 345.0L873.2 345.2L874.7 345.5L876.2 345.9L877.7 346.2L879.2 346.5L880.7 346.8L882.1 347.0L883.6 347.2L885.1 347.4L886.6 347.5L888.1 347.5L889.6 347.4L891.1 347.2L892.6 347.0L894.1 346.7L895.5 346.4L897.0 346.1L898.5 345.8L900.0 345.6L901.5 345.5L903.0 345.5L904.5 345.6L906.0 345.8L907.4 346.0L908.9 346.3L910.4 346.6L911.9 347.0L913.4 347.3L914.9 347.5L916.3 347.8L917.8 348.0L919.3 348.2L920.8 348.4L922.3 348.6L923.8 348.7L925.3 348.7L926.8 348.7L928.3 348.7L929.8 348.6L931.3 348.5L932.8 348.4L934.3 348.2L935.8 348.0L937.3 348.0L938.8 347.9L940.3 347.9L941.8 347.9L943.3 347.9L944.8 348.1L946.2 348.4L947.7 348.8L949.2 349.1L950.6 349.4L952.1 349.7L953.5 350.1L955.0 350.5L956.4 350.9L957.9 351.3L959.4 351.8L960.8 352.2L962.3 352.5L963.8 352.8L965.2 353.2L966.7 353.6L968.2 354.0L969.6 354.3L971.1 354.6L972.6 354.8L974.1 355.1L975.5 355.3L977.0 355.3L978.5 355.2L980.0 355.1L981.5 355.2L983.0 355.3L984.5 355.3L986.1 355.1L987.6 354.9L989.1 354.9L990.6 355.1L992.1 355.3L993.6 355.5L995.1 355.7L996.6 355.8L998.1 355.5L999.6 355.2L1001.1 355.0L1002.6 354.9L1004.1 354.8L1005.6 354.6L1007.1 354.4L1008.6 354.3L1010.1 354.4L1011.5 354.4L1013.0 354.2L1014.5 353.7L1015.9 353.2L1017.4 352.6L1018.8 351.9L1020.2 351.3L1021.7 351.1L1023.1 350.9L1024.6 350.7L1026.1 350.3L1027.5 350.1L1029.0 350.0L1030.5 350.0L1032.0 350.1L1033.5 349.8L1035.0 349.5L1036.5 349.4L1038.0 349.7L1039.5 349.8L1041.0 349.4L1042.5 348.8L1044.0 348.2L1045.5 347.8L1046.9 347.5L1048.3 347.5L1049.6 347.8L1050.9 348.5L1052.2 349.3L1053.5 350.3L1054.8 351.3L1056.1 352.2L1057.5 353.1L1058.8 353.8L1060.3 354.6L1061.7 355.0L1063.1 355.4L1064.6 355.9L1066.0 356.6L1067.5 357.2L1068.9 357.4L1070.3 357.4L1071.8 357.1L1073.2 356.6L1074.6 356.1L1076.0 355.4L1077.4 354.5L1078.8 353.6L1080.2 352.9L1081.5 352.4L1082.9 352.1L1084.1 352.3L1085.4 352.6L1086.6 353.2L1087.8 354.0L1089.0 355.4L1090.2 356.9L1091.5 358.2L1092.8 359.1L1094.2 359.8L1095.6 360.4L1097.1 360.8L1098.6 361.1L1100.0 361.5L1101.4 362.1L1102.7 362.8L1103.9 363.7L1105.1 364.4L1106.3 365.2L1107.4 366.0L1108.5 367.0L1109.6 368.1L1110.7 369.2L1111.7 370.3L1112.6 371.4L1113.6 372.5L1114.5 373.6L1115.4 374.7L1116.4 375.9L1117.5 377.4L1118.5 378.9L1119.6 380.5L1120.7 381.6L1121.9 382.5L1123.1 383.1L1124.3 383.6L1125.6 383.8L1127.1 383.9L1128.7 383.8L1130.1 383.9L1131.5 384.3L1132.8 385.4L1134.0 386.6L1135.3 387.6L1136.7 388.1L1138.2 388.5L1139.7 388.8L1141.2 388.6L1142.8 388.2L1144.3 387.8L1145.8 387.5L1147.2 387.2L1148.6 387.7L1149.9 388.9L1151.2 390.3L1152.5 391.5L1153.8 392.4L1155.2 393.2L1156.5 394.0L1157.7 394.9L1159.0 395.7L1160.3 396.4L1161.6 396.9L1163.0 396.9L1164.4 396.9L1165.9 396.9L1167.4 396.9L1168.9 396.7L1170.4 396.1L1172.0 395.4" stroke="#ff0000" stroke-width="5.5" stroke-linecap="butt"/>
<path d="M149.6 724.0L149.7 722.5L149.7 721.0L149.8 719.5L149.9 718.0L149.9 716.5L150.0 715.0L150.1 713.5L150.1 712.0L150.2 710.5L150.3 709.0L150.3 707.5L150.4 706.0L150.4 704.5L150.5 703.0L150.6 701.5L150.6 700.0L150.6 698.5L150.7 697.0L150.7 695.5L150.8 694.0L150.8 692.5L150.9 691.0L150.9 689.5L150.9 688.0L151.0 686.5L151.0 685.0L151.1 683.5L151.1 682.0L151.1 680.5L151.2 679.0L151.2 677.5L151.2 676.0L151.3 674.5L151.3 673.0L151.3 671.5L151.4 670.0L151.4 668.5L151.4 667.0L151.5 665.5L151.5 664.0L151.5 662.5L151.6 661.0L151.6 659.5L151.6 658.0L151.6 656.5L151.7 655.0L151.7 653.5L151.7 652.0L151.8 650.5L151.8 649.0L151.8 647.4L151.9 645.9L151.9 644.4L151.9 642.9L152.0 641.4L152.0 639.9L152.0 638.4L152.1 636.9L152.1 635.4L152.1 633.9L152.2 632.4L152.2 630.9L152.2 629.4L152.3 627.9L152.3 626.4L152.3 624.9L152.3 623.4L152.4 621.9L152.4 620.4L152.4 618.9L152.5 617.4L152.5 615.9L152.5 614.4L152.6 612.9L152.6 611.4L152.6 609.9L152.7 608.4L152.7 606.9L152.7 605.4L152.7 603.9L152.8 602.4L152.8 600.9L152.8 599.4L152.9 597.9L152.9 596.4L152.9 594.9L153.0 593.4L153.0 591.9L153.0 590.4L153.1 588.9L153.1 587.4L153.1 585.9L153.2 584.4L153.2 582.9L153.3 581.4L153.3 579.9L153.3 578.4L153.4 576.9L153.4 575.4L153.5 573.9L153.5 572.4L153.6 570.9L153.6 569.4L153.6 567.9L153.7 566.4L153.7 564.9L153.8 563.4L153.8 561.9L153.9 560.4L153.9 558.9L154.0 557.4L154.0 555.9L154.1 554.4L154.1 552.9L154.2 551.4L154.2 549.9L154.3 548.4L154.3 546.9L154.4 545.4L154.4 543.9L154.5 542.4L154.6 540.9L154.6 539.4L154.7 537.9L154.7 536.4L154.8 534.9L154.9 533.4L154.9 531.9L155.0 530.4L155.0 528.9L155.1 527.4L155.2 525.9L155.3 524.4L155.3 522.9L155.4 521.4L155.5 519.9L155.5 518.4L155.6 516.9L155.7 515.4L155.8 513.9L155.9 512.4L155.9 510.9L156.0 509.4L156.1 507.9L156.2 506.4L156.3 504.9L156.4 503.4L156.5 501.9L156.6 500.4L156.6 498.9L156.7 497.4L156.8 495.9L156.9 494.4L157.0 492.9L157.1 491.4L157.2 489.9L157.3 488.4L157.4 486.9L157.5 485.4L157.6 483.9L157.7 482.4L157.8 480.9L157.9 479.4L158.0 477.9L158.1 476.4L158.2 474.9L158.3 473.4L158.4 471.9L158.5 470.4L158.6 468.9L158.7 467.4L158.8 465.9L158.9 464.4L159.0 462.9L159.2 461.4L159.3 459.9L159.4 458.4L159.5 456.9L159.6 455.4L159.7 453.9L159.8 452.4L159.9 450.9L160.0 449.4L160.1 447.9L160.3 446.4L160.4 444.9L160.5 443.4L160.6 441.9L160.7 440.4L160.8 438.9L160.9 437.4L161.0 435.9L161.1 434.4L161.2 433.0L161.3 431.5L161.4 430.0L161.5 428.5L161.7 427.0L161.8 425.5L161.9 424.0L162.0 422.5L162.1 421.0L162.2 419.5L162.3 418.0L162.4 416.5L162.5 415.0L162.7 413.5L162.8 412.0L162.9 410.5L163.0 409.0L163.1 407.5L163.2 406.0L163.3 404.5L163.5 403.0L163.6 401.5L163.7 400.0L163.8 398.5L163.9 397.0L164.1 395.5L164.2 394.0L164.4 392.5L164.5 391.0L164.6 389.5L164.8 388.0L165.0 386.6L165.1 385.1L165.3 383.6L165.5 382.1L165.7 380.6L165.9 379.1L166.1 377.6L166.3 376.1L166.5 374.6L166.7 373.1L166.9 371.7L167.1 370.2L167.3 368.7L167.5 367.2L167.7 365.7L168.0 364.2L168.2 362.7L168.5 361.3L168.7 359.8L169.0 358.3L169.3 356.8L169.5 355.4L169.8 353.9L170.0 352.4L170.3 350.9L170.5 349.4L170.7 347.9L170.9 346.4L171.1 345.0L171.3 343.5L171.5 342.0L171.7 340.5L172.0 339.0L172.3 337.6L172.6 336.1L172.9 334.6L173.3 333.2L173.7 331.7L174.1 330.3L174.5 328.9L175.0 327.4L175.4 326.0L175.9 324.6L176.4 323.1L176.9 321.7L177.4 320.3L177.9 318.8L178.4 317.4L178.8 316.0L179.3 314.6L179.8 313.1L180.3 311.7L180.8 310.3L181.3 308.9L181.9 307.5L182.4 306.1L183.0 304.7L183.5 303.3L184.1 301.9L184.7 300.5L185.2 299.1L185.8 297.7L186.3 296.3L186.8 294.9L187.3 293.5L187.7 292.0L188.1 290.6L188.5 289.2L188.8 287.7L189.1 286.2L189.4 284.7L189.8 283.3L190.2 281.8L190.7 280.4L191.2 279.0L191.6 277.5L191.9 276.1L192.2 274.6L192.5 273.2L192.7 271.7L193.0 270.2L193.2 268.7L193.4 267.2L193.6 265.7L193.8 264.2L194.0 262.7L194.2 261.2L194.4 259.8L194.7 258.3L194.9 256.8L195.1 255.3L195.3 253.8L195.6 252.3L195.8 250.8L196.0 249.4L196.3 247.9L196.5 246.4L196.7 244.9L197.0 243.4L197.2 241.9L197.4 240.5L197.6 239.0L197.9 237.5L198.1 236.0L198.3 234.5L198.6 233.0L198.8 231.6L199.0 230.1L199.3 228.6L199.5 227.1L199.7 225.6L200.0 224.1L200.2 222.7L200.4 221.2L200.6 219.7L200.9 218.2L201.1 216.7L201.3 215.2L201.5 213.7L201.7 212.3L202.0 210.8L202.2 209.3L202.4 207.8L202.6 206.3L202.8 204.8L203.0 203.3L203.3 201.9L203.5 200.4L203.8 198.9L204.0 197.4L204.3 195.9L204.5 194.5L204.8 193.0L205.1 191.5L205.4 190.0L205.7 188.5L206.0 187.1L206.3 185.6L206.6 184.1L206.9 182.7L207.2 181.2L207.6 179.7L207.9 178.3L208.3 176.8L208.7 175.4L209.1 173.9L209.5 172.5L209.9 171.1L210.3 169.6L210.8 168.2L211.2 166.7L211.7 165.3L212.1 163.9L212.6 162.4L213.0 161.0L213.5 159.6L214.0 158.2L214.4 156.7L214.9 155.3L215.4 153.9L215.9 152.4L216.4 151.0L216.9 149.6L217.4 148.2L218.0 146.8L218.6 145.5L219.2 144.1L219.9 142.8L220.6 141.5L221.4 140.1L222.1 138.8L222.9 137.5L223.7 136.2L224.4 135.0L225.2 133.7L226.0 132.4L226.9 131.1L227.7 129.9L228.4 128.6L229.0 127.2L229.5 125.8L230.0 124.4L230.5 123.0L231.0 121.5L231.4 120.1L231.9 118.7L232.4 117.2L233.0 115.8L233.5 114.5L234.1 113.1L234.7 111.7L235.3 110.3L235.7 108.9L236.2 107.4L236.6 106.0L236.9 104.6L237.3 103.1L237.7 101.6L238.0 100.2L238.3 98.7L238.7 97.2L239.0 95.8L239.4 94.3L239.7 92.8L240.1 91.4L240.5 89.9L240.9 88.5L241.3 87.0L241.7 85.6L242.1 84.2L242.6 82.7L243.0 81.3L243.4 79.8L243.9 78.4L244.3 77.0L244.8 75.5L245.2 74.1L245.7 72.7L246.1 71.2L246.6 69.8L247.1 68.4L247.6 67.0L248.1 65.6L248.7 64.2L249.3 62.8L249.9 61.4L250.6 60.1L251.3 58.7L252.0 57.4L252.8 56.2L253.7 55.0L254.6 53.8L255.6 52.7L256.6 51.6L257.7 50.5L258.7 49.4L259.8 48.3L260.8 47.2L261.9 46.1L262.9 45.1L264.0 44.0L265.1 43.0L266.2 42.0L267.3 41.0L268.5 40.0L269.6 39.1L270.8 38.1L272.0 37.2L273.2 36.3L274.4 35.4L275.7 34.5L276.9 33.7L278.2 32.9L279.5 32.1L280.8 31.4L282.1 30.7L283.5 30.0L284.8 29.4L286.2 28.8L287.6 28.3L289.1 27.8L290.5 27.5L292.0 27.2L293.5 26.9L295.0 26.8L296.5 26.8L298.0 26.7L299.5 26.7L300.9 27.0L302.4 27.5L303.8 27.9L305.3 28.4L306.7 29.0L308.0 29.7L309.2 30.4L310.4 31.3L311.6 32.2L312.7 33.2L313.7 34.3L314.8 35.4L315.8 36.5L316.8 37.7L317.8 38.9L318.8 40.0L319.8 41.2L320.8 42.3L321.9 43.4L322.9 44.5L323.9 45.6L324.9 46.7L325.9 47.8L326.9 49.0L327.9 50.1L328.9 51.2L329.8 52.4L330.8 53.6L331.7 54.7L332.6 55.9L333.6 57.1L334.5 58.3L335.5 59.5L336.4 60.7L337.3 61.9L338.2 63.1L339.0 64.3L339.8 65.6L340.5 66.9L341.2 68.2L341.8 69.5L342.4 70.9L343.0 72.3L343.6 73.7L344.2 75.1L344.7 76.5L345.2 77.9L345.7 79.3L346.2 80.8L346.7 82.2L347.2 83.6L347.7 85.0L348.2 86.5L348.6 87.9L349.1 89.3L349.5 90.8L349.9 92.2L350.3 93.7L350.8 95.1L351.2 96.5L351.6 98.0L352.0 99.4L352.4 100.9L352.7 102.3L353.1 103.8L353.5 105.2L353.9 106.7L354.2 108.2L354.6 109.6L354.9 111.1L355.3 112.5L355.6 114.0L356.0 115.5L356.3 116.9L356.7 118.4L357.1 119.8L357.4 121.3L357.8 122.7L358.2 124.2L358.6 125.6L359.0 127.1L359.4 128.5L359.8 130.0L360.2 131.4L360.6 132.9L361.0 134.3L361.4 135.8L361.8 137.2L362.2 138.7L362.6 140.1L363.0 141.6L363.3 143.0L363.6 144.5L364.0 146.0L364.3 147.4L364.6 148.9L364.9 150.4L365.2 151.8L365.5 153.3L365.8 154.8L366.1 156.2L366.4 157.7L366.7 159.2L367.0 160.7L367.2 162.1L367.5 163.6L367.8 165.1L368.1 166.6L368.3 168.1L368.6 169.5L368.8 171.0L369.1 172.5L369.4 174.0L369.6 175.5L369.9 176.9L370.1 178.4L370.4 179.9L370.6 181.4L370.9 182.9L371.1 184.4L371.4 185.8L371.6 187.3L371.9 188.8L372.1 190.3L372.3 191.8L372.6 193.2L372.8 194.7L373.0 196.2L373.3 197.7L373.5 199.2L373.7 200.7L373.9 202.2L374.2 203.6L374.4 205.1L374.6 206.6L374.8 208.1L375.0 209.6L375.2 211.1L375.5 212.6L375.7 214.0L375.9 215.5L376.1 217.0L376.4 218.5L376.6 220.0L376.8 221.5L377.1 222.9L377.3 224.4L377.5 225.9L377.8 227.4L378.0 228.9L378.3 230.4L378.5 231.8L378.8 233.3L379.0 234.8L379.3 236.3L379.6 237.8L379.8 239.2L380.1 240.7L380.3 242.2L380.6 243.7L380.8 245.2L381.1 246.6L381.4 248.1L381.6 249.6L381.9 251.1L382.2 252.5L382.4 254.0L382.7 255.5L383.0 257.0L383.3 258.5L383.5 259.9L383.8 261.4L384.1 262.9L384.4 264.4L384.7 265.8L385.0 267.3L385.2 268.8L385.5 270.3L385.8 271.7L386.1 273.2L386.4 274.7L386.7 276.1L387.0 277.6L387.3 279.1L387.6 280.6L387.9 282.0L388.2 283.5L388.5 285.0L388.9 286.4L389.2 287.9L389.5 289.4L389.8 290.8L390.2 292.3L390.5 293.8L390.8 295.2L391.2 296.7L391.5 298.2L391.8 299.6L392.2 301.1L392.5 302.5L392.9 304.0L393.2 305.5L393.6 306.9L394.0 308.4L394.3 309.8L394.7 311.3L395.1 312.7L395.4 314.2L395.8 315.6L396.2 317.1L396.6 318.5L397.0 320.0L397.4 321.4L397.8 322.9L398.2 324.3L398.6 325.8L399.0 327.2L399.4 328.7L399.8 330.1L400.3 331.6L400.7 333.0L401.1 334.4L401.5 335.9L402.0 337.3L402.4 338.8L402.8 340.2L403.2 341.6L403.7 343.1L404.1 344.5L404.5 346.0L405.0 347.4L405.4 348.8L405.8 350.3L406.3 351.7L406.7 353.1L407.1 354.6L407.6 356.0L408.0 357.5L408.5 358.9L408.9 360.3L409.4 361.8L409.8 363.2L410.3 364.6L410.8 366.0L411.2 367.5L411.7 368.9L412.1 370.4L412.6 371.9L413.0 373.4L413.5 374.9L413.9 376.4L414.4 377.9L414.9 379.3L415.4 380.7L416.0 382.1L416.6 383.3L417.2 384.5L418.0 385.7L418.8 386.8L419.8 387.8L420.9 388.8L422.1 389.8L423.4 390.8L424.7 391.7L426.0 392.6L427.3 393.4L428.6 394.2L429.9 395.0L431.2 395.7L432.5 396.3L433.9 397.0L435.2 397.6L436.6 398.2L438.0 398.7L439.4 399.3L440.8 399.9L442.2 400.4L443.7 400.9L445.1 401.5L446.5 402.1L447.9 402.7L449.2 403.2L450.6 403.8L452.0 404.4L453.4 405.0L454.8 405.6L456.1 406.2L457.5 406.8L458.9 407.4L460.3 408.0L461.7 408.6L463.0 409.2L464.4 409.7L465.8 410.3L467.2 410.9L468.6 411.5L470.0 412.1L471.3 412.7L472.7 413.2L474.1 413.8L475.5 414.4L476.9 415.0L478.3 415.5L479.7 416.1L481.1 416.7L482.4 417.2L483.8 417.8L485.2 418.4L486.6 418.9L488.0 419.5L489.4 420.0L490.8 420.6L492.2 421.1L493.6 421.7L495.0 422.2L496.4 422.8L497.8 423.3L499.2 423.8L500.6 424.4L502.0 424.9L503.4 425.5L504.8 426.0L506.2 426.5L507.6 427.1L509.0 427.6L510.4 428.2L511.8 428.7L513.2 429.2L514.6 429.8L516.0 430.3L517.4 430.9L518.8 431.4L520.2 432.0L521.6 432.5L523.0 433.1L524.4 433.6L525.8 434.1L527.2 434.7L528.6 435.2L530.0 435.8L531.4 436.3L532.8 436.8L534.3 437.4L535.7 437.9L537.1 438.4L538.5 438.9L539.9 439.4L541.3 439.9L542.7 440.4L544.1 440.9L545.5 441.4L547.0 441.9L548.4 442.4L549.8 442.9L551.2 443.4L552.7 443.8L554.1 444.3L555.5 444.8L556.9 445.2L558.4 445.7L559.8 446.2L561.2 446.6L562.7 447.1L564.1 447.5L565.5 448.0L567.0 448.4L568.4 448.9L569.8 449.3L571.3 449.8L572.7 450.2L574.1 450.6L575.6 451.1L577.0 451.5L578.4 452.0L579.9 452.5L581.3 452.9L582.7 453.4L584.2 453.8L585.6 454.3L587.0 454.8L588.4 455.3L589.9 455.8L591.3 456.2L592.7 456.6L594.2 457.1L595.6 457.6L597.0 458.0L598.5 458.4L599.9 458.8L601.3 459.2L602.8 459.7L604.2 460.1L605.6 460.6L607.1 461.1L608.5 461.6L609.9 462.0L611.4 462.4L612.8 462.8L614.2 463.2L615.7 463.7L617.1 464.2L618.6 464.6L620.0 465.0L621.4 465.4L622.9 466.0L624.3 466.5L625.7 466.9L627.2 467.2L628.6 467.5L630.1 468.0L631.5 468.6L633.0 469.0L634.4 469.3L635.8 469.6L637.3 470.0L638.7 470.4L640.2 470.8L641.6 471.2L643.1 471.6L644.5 472.0L645.9 472.3L647.4 472.8L648.8 473.3L650.3 473.8L651.7 474.3L653.2 474.7L654.6 475.1L656.1 475.4L657.6 475.7L659.0 476.1L660.5 476.5L661.9 476.9L663.4 477.4L664.9 477.8L666.3 478.0L667.8 478.2L669.2 478.5L670.7 478.8L672.2 479.1L673.6 479.4L675.1 479.6L676.6 479.8L678.0 480.0L679.5 480.4L681.0 481.0L682.4 481.6L683.9 481.6L685.4 481.6L686.8 482.0L688.3 482.7L689.7 483.3L691.2 483.5L692.7 483.8L694.1 484.2L695.6 484.8L697.0 485.3L698.5 485.5L699.9 485.7L701.4 486.0L702.8 486.3L704.3 486.6L705.7 487.2L707.2 487.8L708.6 488.1L710.1 488.4L711.5 488.7L713.0 489.2L714.4 489.6L715.9 490.1L717.3 490.5L718.8 490.9L720.2 491.3L721.7 491.6L723.1 492.0L724.6 492.4L726.0 492.7L727.5 492.9L728.9 493.2L730.4 493.6L731.9 494.0L733.3 494.3L734.8 494.3L736.3 494.3L737.7 494.8L739.2 495.5L740.7 495.9L742.1 496.0L743.6 496.1L745.1 496.9L746.6 497.6L748.0 498.1L749.5 498.4L751.0 498.7L752.4 498.3L753.9 498.0L755.4 498.4L756.9 499.1L758.3 499.7L759.8 500.0L761.3 500.2L762.7 500.4L764.2 500.5L765.7 500.8L767.1 501.4L768.6 502.1L770.1 502.3L771.5 502.4L773.0 502.5L774.5 502.5L775.9 502.5L777.4 503.1L778.9 503.8L780.3 504.3L781.8 504.6L783.3 505.0L784.7 505.4L786.2 505.8L787.7 505.9L789.1 505.9L790.6 506.1L792.1 506.8L793.5 507.6L795.0 508.1L796.5 508.4L797.9 508.7L799.4 508.5L800.9 508.4L802.3 508.7L803.8 509.2L805.3 509.6L806.7 510.1L808.2 510.5L809.7 510.8L811.1 511.0L812.6 511.5L814.1 512.4L815.5 513.3L817.0 513.3L818.5 513.2L819.9 513.2L821.4 513.2L822.9 513.2L824.3 513.6L825.8 513.9L827.3 514.4L828.7 514.9L830.2 515.5L831.7 516.5L833.1 517.4L834.6 517.5L836.1 517.2L837.5 517.0L839.0 517.4L840.5 517.8L841.9 518.2L843.4 518.7L844.9 519.0L846.3 519.2L847.8 519.4L849.3 520.3L850.7 521.3L852.2 521.7L853.7 521.2L855.1 520.7L856.6 521.4L858.0 522.1L859.5 522.5L861.0 522.7L862.4 522.8L863.9 523.3L865.4 523.8L866.8 523.8L868.3 523.6L869.8 523.6L871.2 524.8L872.7 526.0L874.2 526.3L875.6 526.0L877.1 525.9L878.6 526.2L880.1 526.6L881.5 526.7L883.0 526.7L884.5 526.8L885.9 527.2L887.4 527.5L888.9 528.2L890.3 528.9L891.8 529.6L893.3 530.0L894.8 530.4L896.2 530.7L897.7 530.9L899.2 531.2L900.6 531.6L902.1 532.1L903.6 532.2L905.1 532.3L906.5 532.3L908.0 532.4L909.5 532.5L911.0 533.0L912.5 533.6L913.9 533.8L915.4 534.0L916.9 534.1L918.4 534.1L919.9 534.0L921.4 534.5L922.8 535.0L924.3 535.5L925.8 536.0L927.3 536.3L928.8 536.2L930.3 536.0L931.8 535.9L933.2 535.9L934.7 536.0L936.2 536.7L937.7 537.3L939.2 538.0L940.7 538.7L942.2 538.9L943.6 538.3L945.1 537.7L946.6 538.0L948.1 538.3L949.6 538.6L951.0 538.8L952.5 539.1L954.0 540.0L955.4 540.8L956.9 540.5L958.4 539.6L959.9 539.1L961.3 540.3L962.8 541.5L964.2 542.3L965.7 543.0L967.2 543.3L968.6 542.9L970.1 542.4L971.6 543.3L973.0 544.6L974.5 545.5L976.0 545.4L977.4 545.4L978.9 545.3L980.3 545.2L981.8 545.4L983.3 546.1L984.7 546.7L986.2 546.4L987.6 546.0L989.1 546.1L990.6 546.9L992.0 547.7L993.5 549.0L995.0 550.4L996.4 550.5L997.9 549.6L999.4 549.0L1000.8 550.6L1002.3 552.1L1003.8 552.2L1005.2 551.7L1006.7 551.4L1008.2 552.2L1009.7 553.0L1011.1 553.1L1012.6 552.9L1014.1 552.6L1015.6 551.8L1017.0 551.1L1018.5 551.9L1020.0 552.9L1021.5 553.8L1022.9 554.5L1024.4 555.1L1025.9 554.8L1027.3 554.4L1028.8 554.4L1030.3 554.6L1031.8 554.8L1033.2 555.9L1034.7 557.1L1036.2 557.3L1037.7 557.1L1039.1 556.9L1040.6 556.7L1042.1 556.5L1043.6 557.0L1045.0 557.8L1046.5 558.7L1048.0 559.8L1049.4 560.8L1050.9 560.6L1052.4 560.3L1053.8 560.6L1055.3 561.6L1056.8 562.6L1058.2 563.3L1059.7 563.9L1061.2 564.0L1062.6 563.6L1064.1 563.2L1065.5 563.0L1067.0 562.8L1068.5 562.8L1069.9 563.1L1071.4 563.5L1072.9 564.5L1074.3 565.5L1075.8 566.4L1077.2 567.2L1078.7 567.8L1080.2 567.9L1081.6 567.9L1083.1 568.3L1084.5 568.7L1086.0 569.0L1087.5 568.8L1088.9 568.6L1090.4 569.2L1091.9 569.9L1093.4 570.3L1094.8 570.1L1096.3 570.0L1097.8 570.3L1099.2 570.6L1100.7 570.7L1102.2 570.4L1103.7 570.1L1105.2 570.2L1106.6 570.2L1108.1 570.8L1109.6 571.6L1111.1 572.2L1112.6 572.1L1114.1 571.9L1115.6 572.1L1117.1 572.3L1118.5 572.9L1120.0 574.0L1121.5 575.2L1123.0 575.0L1124.5 574.7L1126.0 575.6L1127.5 577.5L1129.0 579.1L1130.5 578.1L1132.0 577.2L1133.5 576.4L1135.0 575.6L1136.5 575.4L1137.9 576.5L1139.4 577.5L1140.9 577.6L1142.4 577.5L1143.9 577.3L1145.4 576.9L1146.9 576.6L1148.4 577.9L1149.8 579.2L1151.3 579.1L1152.8 578.2L1154.3 577.3L1155.8 576.2L1157.2 575.1L1158.7 576.7L1160.2 579.3L1161.7 580.9L1163.1 580.3L1164.6 579.8L1166.1 581.1L1167.6 582.6L1169.1 583.1L1170.5 582.0L1172.0 581.0" stroke="#00ff00" stroke-width="5.5" stroke-linecap="butt"/>
<path d="M159.8 724.0L159.8 722.5L159.9 721.0L159.9 719.5L159.9 718.0L160.0 716.5L160.0 715.0L160.1 713.5L160.1 712.0L160.2 710.5L160.2 709.0L160.3 707.5L160.3 706.0L160.4 704.5L160.4 703.0L160.5 701.5L160.5 700.0L160.6 698.5L160.7 697.0L160.8 695.5L160.8 694.0L160.9 692.5L161.0 691.0L161.1 689.5L161.1 688.0L161.2 686.5L161.3 685.0L161.4 683.5L161.4 682.0L161.5 680.5L161.6 679.0L161.7 677.5L161.7 676.0L161.8 674.5L161.9 673.0L162.0 671.5L162.1 670.0L162.1 668.5L162.2 667.0L162.3 665.5L162.4 664.0L162.5 662.5L162.6 661.0L162.7 659.5L162.8 658.0L163.0 656.5L163.1 655.0L163.2 653.5L163.4 652.0L163.5 650.5L163.7 649.0L163.9 647.5L164.0 646.0L164.2 644.5L164.4 643.0L164.6 641.5L164.7 640.0L164.9 638.5L165.1 637.0L165.3 635.6L165.5 634.1L165.6 632.6L165.8 631.1L166.0 629.6L166.2 628.1L166.4 626.6L166.5 625.1L166.7 623.6L166.9 622.1L167.0 620.6L167.2 619.1L167.4 617.6L167.6 616.2L167.7 614.7L167.9 613.2L168.1 611.7L168.3 610.2L168.5 608.7L168.7 607.2L168.9 605.7L169.1 604.2L169.3 602.7L169.5 601.3L169.7 599.8L170.0 598.3L170.2 596.8L170.4 595.3L170.7 593.8L170.9 592.3L171.2 590.9L171.4 589.4L171.7 587.9L172.0 586.4L172.3 585.0L172.6 583.5L172.9 582.0L173.2 580.6L173.6 579.1L173.9 577.6L174.3 576.2L174.7 574.7L175.1 573.3L175.5 571.8L175.9 570.4L176.3 568.9L176.7 567.5L177.2 566.0L177.6 564.6L178.0 563.2L178.5 561.7L178.9 560.3L179.4 558.9L179.8 557.4L180.2 556.0L180.6 554.5L181.0 553.1L181.4 551.6L181.8 550.2L182.2 548.7L182.6 547.3L183.0 545.8L183.4 544.4L183.7 542.9L184.1 541.5L184.5 540.0L184.9 538.6L185.2 537.1L185.6 535.7L186.0 534.2L186.4 532.7L186.7 531.3L187.1 529.8L187.4 528.4L187.8 526.9L188.1 525.4L188.5 524.0L188.8 522.5L189.1 521.0L189.5 519.6L189.8 518.1L190.1 516.6L190.4 515.2L190.7 513.7L191.0 512.2L191.3 510.7L191.6 509.3L191.8 507.8L192.1 506.3L192.4 504.8L192.6 503.4L192.8 501.9L193.1 500.4L193.3 498.9L193.5 497.4L193.8 495.9L194.0 494.4L194.2 493.0L194.4 491.5L194.6 490.0L194.8 488.5L195.0 487.0L195.1 485.5L195.3 484.0L195.5 482.5L195.7 481.0L195.8 479.5L196.0 478.0L196.1 476.5L196.3 475.0L196.4 473.5L196.6 472.1L196.7 470.6L196.9 469.1L197.0 467.6L197.1 466.1L197.3 464.6L197.4 463.1L197.5 461.6L197.7 460.1L197.8 458.6L197.9 457.1L198.1 455.6L198.2 454.1L198.4 452.6L198.5 451.1L198.7 449.6L198.9 448.1L199.1 446.6L199.3 445.1L199.5 443.7L199.7 442.2L199.9 440.7L200.1 439.2L200.4 437.7L200.6 436.2L200.8 434.7L201.1 433.3L201.4 431.8L201.6 430.3L201.9 428.8L202.1 427.3L202.4 425.9L202.6 424.4L202.8 422.9L203.0 421.4L203.2 419.9L203.4 418.4L203.6 416.9L203.8 415.4L204.0 413.9L204.2 412.5L204.4 411.0L204.6 409.5L204.7 408.0L204.9 406.5L205.0 405.0L205.2 403.5L205.3 402.0L205.5 400.5L205.7 399.0L205.8 397.5L206.0 396.0L206.3 394.5L206.6 393.1L206.9 391.6L207.2 390.2L207.6 388.7L208.1 387.3L208.5 385.8L208.9 384.4L209.3 382.9L209.7 381.5L210.1 380.0L210.5 378.6L210.8 377.1L211.2 375.6L211.5 374.1L211.9 372.7L212.2 371.2L212.6 369.8L213.0 368.3L213.5 366.9L213.9 365.5L214.4 364.1L215.0 362.7L215.6 361.3L216.3 360.0L216.9 358.6L217.6 357.3L218.3 355.9L219.0 354.6L219.7 353.2L220.3 351.9L221.0 350.5L221.7 349.2L222.4 347.8L223.1 346.5L223.8 345.2L224.4 343.8L225.0 342.4L225.6 341.1L226.1 339.7L226.6 338.3L227.0 336.8L227.5 335.4L227.9 333.9L228.3 332.5L228.6 331.0L229.0 329.5L229.3 328.1L229.7 326.6L230.0 325.1L230.3 323.7L230.5 322.2L230.8 320.7L231.0 319.2L231.3 317.7L231.5 316.3L231.7 314.8L232.0 313.3L232.2 311.8L232.4 310.3L232.7 308.8L233.0 307.4L233.2 305.9L233.5 304.4L233.7 302.9L234.0 301.4L234.2 299.9L234.5 298.5L234.8 297.0L235.1 295.5L235.4 294.1L235.8 292.6L236.2 291.1L236.5 289.7L236.9 288.2L237.3 286.8L237.7 285.3L238.1 283.9L238.4 282.4L238.8 281.0L239.1 279.5L239.3 278.0L239.6 276.5L239.9 275.0L240.1 273.6L240.4 272.1L240.6 270.6L240.9 269.1L241.2 267.7L241.5 266.2L241.9 264.7L242.2 263.3L242.5 261.8L242.9 260.3L243.3 258.9L243.6 257.4L244.0 256.0L244.4 254.5L244.8 253.1L245.3 251.6L245.7 250.2L246.2 248.8L246.7 247.4L247.2 246.0L247.8 244.6L248.3 243.1L248.9 241.7L249.4 240.3L249.9 238.9L250.4 237.5L251.0 236.1L251.4 234.7L251.9 233.2L252.4 231.8L253.0 230.3L253.5 228.9L254.1 227.6L254.7 226.2L255.3 224.9L256.0 223.6L256.8 222.4L257.7 221.2L258.7 220.0L259.7 218.9L260.7 217.7L261.7 216.6L262.7 215.4L263.6 214.2L264.5 213.0L265.3 211.8L266.2 210.5L267.0 209.3L267.8 208.0L268.7 206.7L269.4 205.5L270.2 204.2L270.9 202.8L271.6 201.5L272.3 200.2L272.9 198.8L273.5 197.5L274.1 196.1L274.6 194.7L275.2 193.3L275.7 191.9L276.3 190.5L276.8 189.1L277.4 187.7L278.0 186.3L278.6 184.9L279.2 183.5L279.8 182.1L280.4 180.7L281.0 179.3L281.7 178.0L282.4 176.6L283.1 175.3L283.8 174.1L284.6 172.8L285.5 171.6L286.4 170.3L287.3 169.1L288.3 167.9L289.3 166.7L290.3 165.6L291.4 164.6L292.5 163.6L293.6 162.7L294.8 161.9L296.0 161.1L297.3 160.4L298.7 159.8L300.1 159.1L301.5 158.5L302.9 157.8L304.3 157.2L305.6 156.5L307.0 155.8L308.3 155.0L309.6 154.3L310.9 153.5L312.2 152.7L313.5 151.9L314.8 151.1L316.1 150.4L317.4 149.7L318.8 149.2L320.2 148.7L321.6 148.2L323.0 147.7L324.5 147.2L325.9 146.8L327.4 146.4L328.9 146.0L330.4 145.8L331.9 145.6L333.4 145.5L334.8 145.5L336.3 145.7L337.8 145.9L339.3 146.2L340.8 146.6L342.3 147.0L343.7 147.5L345.2 147.9L346.6 148.4L348.0 148.9L349.3 149.5L350.6 150.2L351.8 151.0L353.1 151.9L354.3 152.8L355.6 153.7L356.8 154.6L358.0 155.5L359.3 156.3L360.6 157.0L362.0 157.6L363.3 158.2L364.7 158.8L366.2 159.3L367.6 159.9L369.0 160.4L370.4 160.9L371.8 161.5L373.2 162.1L374.5 162.7L375.9 163.4L377.2 164.1L378.5 164.8L379.8 165.6L381.1 166.3L382.4 167.1L383.7 167.8L385.0 168.6L386.3 169.4L387.6 170.1L388.9 170.9L390.1 171.7L391.4 172.6L392.7 173.4L393.9 174.2L395.2 175.0L396.4 175.8L397.7 176.6L399.0 177.4L400.3 178.1L401.7 178.8L403.0 179.4L404.4 180.1L405.7 180.8L407.1 181.4L408.4 182.1L409.8 182.7L411.1 183.4L412.5 184.1L413.8 184.8L415.1 185.6L416.4 186.3L417.7 187.1L419.0 187.9L420.3 188.7L421.6 189.4L422.9 190.2L424.2 190.9L425.5 191.6L426.8 192.2L428.2 192.9L429.5 193.6L430.9 194.2L432.2 194.9L433.5 195.6L434.9 196.2L436.2 196.9L437.6 197.5L438.9 198.2L440.3 198.8L441.7 199.5L443.0 200.1L444.4 200.7L445.8 201.3L447.1 202.0L448.5 202.6L449.9 203.2L451.2 203.8L452.6 204.4L454.0 205.1L455.4 205.7L456.7 206.3L458.1 206.9L459.5 207.5L460.9 208.1L462.3 208.7L463.7 209.2L465.0 209.8L466.4 210.4L467.8 211.0L469.2 211.6L470.6 212.2L472.0 212.7L473.4 213.3L474.8 213.9L476.2 214.5L477.6 215.0L479.0 215.6L480.4 216.1L481.8 216.7L483.2 217.3L484.6 217.8L486.0 218.4L487.4 218.9L488.8 219.5L490.2 220.0L491.6 220.6L493.0 221.1L494.4 221.7L495.8 222.2L497.2 222.8L498.6 223.3L500.0 223.8L501.4 224.4L502.8 224.9L504.2 225.5L505.6 226.0L507.0 226.5L508.4 227.1L509.8 227.6L511.2 228.1L512.6 228.6L514.0 229.2L515.4 229.7L516.8 230.2L518.2 230.7L519.6 231.2L521.0 231.7L522.4 232.3L523.8 232.8L525.3 233.3L526.7 233.8L528.1 234.3L529.5 234.8L530.9 235.3L532.3 235.8L533.7 236.3L535.2 236.8L536.6 237.3L538.0 237.8L539.4 238.3L540.8 238.8L542.2 239.2L543.7 239.7L545.1 240.2L546.5 240.7L547.9 241.2L549.4 241.7L550.8 242.2L552.2 242.6L553.6 243.1L555.1 243.6L556.5 244.1L557.9 244.5L559.3 245.0L560.8 245.5L562.2 246.0L563.6 246.4L565.0 246.9L566.5 247.4L567.9 247.8L569.3 248.3L570.8 248.8L572.2 249.2L573.6 249.7L575.0 250.2L576.5 250.6L577.9 251.1L579.3 251.6L580.8 252.0L582.2 252.5L583.6 252.9L585.1 253.4L586.5 253.9L587.9 254.3L589.4 254.8L590.8 255.2L592.2 255.7L593.7 256.1L595.1 256.6L596.5 257.1L598.0 257.5L599.4 258.0L600.8 258.4L602.3 258.9L603.7 259.3L605.1 259.8L606.6 260.3L608.0 260.7L609.4 261.2L610.9 261.6L612.3 262.1L613.7 262.5L615.2 263.0L616.6 263.4L618.0 263.9L619.5 264.4L620.9 264.8L622.3 265.3L623.8 265.7L625.2 266.2L626.6 266.6L628.1 267.1L629.5 267.6L630.9 268.0L632.4 268.5L633.8 268.9L635.2 269.4L636.7 269.9L638.1 270.3L639.5 270.8L640.9 271.2L642.4 271.7L643.8 272.2L645.2 272.6L646.7 273.1L648.1 273.6L649.5 274.0L651.0 274.5L652.4 275.0L653.8 275.4L655.2 275.9L656.7 276.4L658.1 276.9L659.5 277.3L660.9 277.8L662.4 278.3L663.8 278.8L665.2 279.2L666.6 279.7L668.1 280.2L669.5 280.7L670.9 281.2L672.3 281.6L673.8 282.1L675.2 282.6L676.6 283.1L678.0 283.6L679.5 284.0L680.9 284.5L682.3 285.0L683.7 285.5L685.2 286.0L686.6 286.4L688.0 286.9L689.4 287.4L690.9 287.9L692.3 288.4L693.7 288.8L695.1 289.3L696.6 289.8L698.0 290.3L699.4 290.7L700.8 291.2L702.3 291.7L703.7 292.1L705.1 292.6L706.5 293.1L708.0 293.6L709.4 294.0L710.8 294.5L712.3 295.0L713.7 295.4L715.1 295.9L716.5 296.3L718.0 296.8L719.4 297.3L720.8 297.7L722.3 298.2L723.7 298.6L725.1 299.0L726.6 299.5L728.0 299.9L729.5 300.4L730.9 300.8L732.3 301.2L733.8 301.7L735.2 302.1L736.6 302.5L738.1 303.0L739.5 303.4L741.0 303.8L742.4 304.3L743.8 304.7L745.3 305.1L746.7 305.6L748.2 306.0L749.6 306.4L751.0 306.9L752.5 307.3L753.9 307.8L755.4 308.2L756.8 308.7L758.2 309.1L759.7 309.5L761.1 310.0L762.5 310.5L763.9 310.9L765.4 311.4L766.8 311.8L768.2 312.3L769.7 312.8L771.1 313.3L772.5 313.7L773.9 314.2L775.3 314.7L776.8 315.2L778.2 315.7L779.6 316.2L781.0 316.7L782.4 317.3L783.8 317.8L785.2 318.3L786.6 318.8L788.0 319.4L789.4 319.9L790.8 320.4L792.2 321.0L793.6 321.5L795.0 322.0L796.5 322.6L797.9 323.1L799.3 323.7L800.7 324.2L802.1 324.8L803.5 325.3L804.9 325.9L806.3 326.4L807.7 327.0L809.1 327.5L810.5 328.1L811.9 328.6L813.3 329.1L814.7 329.7L816.1 330.2L817.5 330.8L818.9 331.3L820.3 331.8L821.7 332.4L823.1 332.9L824.5 333.4L825.9 333.9L827.3 334.4L828.7 334.9L830.2 335.5L831.6 336.0L833.0 336.5L834.4 337.0L835.8 337.5L837.2 338.0L838.7 338.5L840.1 339.0L841.5 339.5L842.9 339.9L844.3 340.4L845.8 340.9L847.2 341.4L848.6 341.9L850.0 342.4L851.4 342.9L852.9 343.4L854.3 343.9L855.7 344.3L857.1 344.8L858.5 345.3L860.0 345.8L861.4 346.3L862.8 346.8L864.2 347.3L865.6 347.8L867.1 348.3L868.5 348.8L869.9 349.2L871.3 349.7L872.7 350.2L874.2 350.7L875.6 351.2L877.0 351.8L878.4 352.3L879.8 352.8L881.2 353.3L882.6 353.8L884.0 354.3L885.5 354.8L886.9 355.4L888.3 355.9L889.7 356.5L891.1 357.0L892.5 357.5L893.9 358.1L895.3 358.6L896.7 359.2L898.1 359.7L899.5 360.3L900.9 360.8L902.3 361.4L903.7 361.9L905.1 362.4L906.5 362.9L907.9 363.4L909.3 364.0L910.7 364.5L912.2 365.0L913.6 365.5L915.0 366.0L916.4 366.5L917.8 366.9L919.2 367.4L920.7 367.9L922.1 368.4L923.5 368.9L924.9 369.4L926.4 369.9L927.8 370.3L929.2 370.8L930.6 371.3L932.0 371.8L933.5 372.3L934.9 372.7L936.3 373.2L937.8 373.7L939.2 374.1L940.6 374.6L942.0 375.1L943.5 375.5L944.9 376.0L946.3 376.5L947.8 376.9L949.2 377.4L950.6 377.9L952.0 378.3L953.5 378.8L954.9 379.3L956.3 379.7L957.8 380.2L959.2 380.6L960.6 381.1L962.1 381.6L963.5 382.0L964.9 382.5L966.4 382.9L967.8 383.4L969.2 383.8L970.6 384.3L972.1 384.8L973.5 385.2L974.9 385.7L976.4 386.1L977.8 386.6L979.3 387.0L980.7 387.4L982.1 387.9L983.6 388.3L985.0 388.8L986.4 389.2L987.9 389.7L989.3 390.1L990.7 390.5L992.2 391.0L993.6 391.4L995.0 391.9L996.5 392.3L997.9 392.7L999.4 393.2L1000.8 393.6L1002.2 394.1L1003.7 394.5L1005.1 394.9L1006.5 395.4L1008.0 395.8L1009.4 396.3L1010.8 396.7L1012.3 397.2L1013.7 397.6L1015.1 398.1L1016.6 398.5L1018.0 399.0L1019.4 399.4L1020.9 399.9L1022.3 400.3L1023.7 400.8L1025.2 401.3L1026.6 401.7L1028.0 402.2L1029.5 402.6L1030.9 403.1L1032.3 403.6L1033.7 404.0L1035.2 404.5L1036.6 405.0L1038.0 405.5L1039.5 405.9L1040.9 406.4L1042.3 406.9L1043.7 407.3L1045.2 407.8L1046.6 408.3L1048.0 408.8L1049.4 409.2L1050.9 409.7L1052.3 410.2L1053.7 410.6L1055.1 411.1L1056.6 411.6L1058.0 412.1L1059.4 412.5L1060.9 413.0L1062.3 413.5L1063.7 413.9L1065.1 414.4L1066.6 414.9L1068.0 415.3L1069.4 415.8L1070.9 416.3L1072.3 416.7L1073.7 417.2L1075.1 417.6L1076.6 418.1L1078.0 418.6L1079.4 419.0L1080.9 419.5L1082.3 420.0L1083.7 420.5L1085.1 421.0L1086.6 421.5L1088.0 421.9L1089.4 422.4L1090.9 422.9L1092.3 423.3L1093.7 423.8L1095.2 424.2L1096.6 424.7L1098.0 425.1L1099.5 425.5L1100.9 425.9L1102.4 426.2L1103.8 426.6L1105.3 426.9L1106.8 427.1L1108.3 427.4L1109.8 427.7L1111.2 428.0L1112.7 428.2L1114.2 428.6L1115.6 428.9L1117.1 429.3L1118.5 429.7L1120.0 430.1L1121.4 430.5L1122.9 431.0L1124.3 431.4L1125.7 431.9L1127.1 432.4L1128.6 432.9L1130.0 433.4L1131.3 434.0L1132.7 434.7L1134.1 435.3L1135.5 435.9L1136.9 436.5L1138.3 437.0L1139.7 437.4L1141.1 437.8L1142.6 438.1L1144.1 438.4L1145.6 438.6L1147.1 438.9L1148.6 439.1L1150.1 439.4L1151.5 439.7L1152.9 440.1L1154.3 440.6L1155.7 441.2L1157.0 441.9L1158.3 442.6L1159.7 443.4L1161.0 444.2L1162.3 444.9L1163.6 445.6L1165.0 446.3L1166.4 446.8L1167.8 447.4L1169.2 448.0L1170.6 448.5L1172.0 449.0" stroke="#0000ff" stroke-width="5.5" stroke-dasharray="5.5 9.075" stroke-dashoffset="0"/>
<path d="M131.0 508.0L131.8 506.7L132.5 505.4L133.3 504.1L134.1 502.8L134.8 501.5L135.6 500.2L136.4 499.0L137.2 497.7L137.9 496.4L138.7 495.1L139.5 493.8L140.3 492.5L141.0 491.2L141.8 490.0L142.6 488.7L143.4 487.4L144.2 486.1L144.9 484.8L145.7 483.5L146.4 482.2L147.1 480.9L147.8 479.5L148.5 478.2L149.2 476.8L149.8 475.5L150.5 474.1L151.2 472.8L151.8 471.4L152.5 470.1L153.1 468.7L153.8 467.4L154.5 466.0L155.1 464.7L155.8 463.3L156.4 462.0L157.1 460.6L157.7 459.3L158.4 457.9L159.1 456.6L159.8 455.3L160.6 454.0L161.4 452.7L162.2 451.4L163.0 450.1L163.8 448.9L164.7 447.6L165.5 446.4L166.4 445.2L167.3 444.0L168.2 442.8L169.2 441.7L170.2 440.5L171.2 439.4L172.2 438.3L173.3 437.2L174.3 436.1L175.3 435.0L176.3 433.9L177.3 432.8L178.2 431.6L179.2 430.4L180.1 429.2L181.0 428.0L181.9 426.8L182.8 425.6L183.7 424.4L184.6 423.2L185.5 422.0L186.4 420.8L187.3 419.6L188.3 418.4L189.2 417.2L190.1 416.1L191.0 414.9L192.0 413.7L192.9 412.5L193.9 411.4L194.8 410.2L195.8 409.0L196.7 407.9L197.7 406.7L198.6 405.5L199.6 404.3L200.6 403.1L201.5 401.9L202.5 400.8L203.5 399.6L204.6 398.6L205.6 397.6L206.8 396.6L207.9 395.7L209.1 394.9L210.4 394.1L211.7 393.4L213.1 392.7L214.5 392.0L215.8 391.3L217.1 390.5L218.4 389.7L219.6 388.9L220.9 388.1L222.2 387.4L223.5 386.5L224.7 385.7L226.0 384.9L227.2 384.1L228.5 383.2L229.7 382.3L230.9 381.4L232.1 380.5L233.3 379.6L234.4 378.7L235.6 377.7L236.8 376.7L237.9 375.8L239.1 374.8L240.2 373.8L241.4 372.8L242.5 371.9L243.7 370.9L244.8 370.0L246.0 369.0L247.2 368.1L248.4 367.2L249.6 366.3L250.8 365.4L252.0 364.6L253.3 363.7L254.5 362.9L255.8 362.1L257.0 361.2L258.3 360.4L259.6 359.6L260.9 358.8L262.1 358.0L263.4 357.3L264.7 356.5L266.0 355.7L267.3 354.9L268.5 354.1L269.8 353.3L271.1 352.5L272.4 351.7L273.6 350.9L274.9 350.1L276.2 349.2L277.4 348.4L278.7 347.6L279.9 346.8L281.2 346.0L282.5 345.1L283.7 344.3L285.0 343.5L286.3 342.7L287.5 341.8L288.8 341.0L290.0 340.2L291.3 339.3L292.5 338.5L293.7 337.6L295.0 336.8L296.2 335.9L297.4 335.1L298.6 334.2L299.8 333.3L301.0 332.4L302.2 331.4L303.4 330.5L304.6 329.5L305.7 328.6L306.9 327.6L308.1 326.7L309.2 325.7L310.4 324.8L311.6 323.8L312.8 322.9L313.9 322.0L315.1 321.0L316.3 320.1L317.5 319.2L318.7 318.4L320.0 317.5L321.2 316.7L322.5 315.9L323.7 315.0L325.0 314.2L326.3 313.4L327.5 312.6L328.8 311.9L330.1 311.1L331.4 310.3L332.7 309.6L334.0 308.8L335.3 308.0L336.6 307.3L337.9 306.5L339.2 305.8L340.5 305.0L341.8 304.3L343.2 303.6L344.5 302.8L345.8 302.1L347.1 301.3L348.4 300.6L349.7 299.8L351.0 299.1L352.3 298.4L353.6 297.6L354.9 296.9L356.3 296.2L357.6 295.5L358.9 294.7L360.2 294.0L361.5 293.3L362.9 292.6L364.2 291.9L365.5 291.2L366.8 290.5L368.2 289.8L369.5 289.1L370.8 288.4L372.2 287.7L373.5 287.0L374.8 286.3L376.2 285.6L377.5 284.9L378.9 284.2L380.2 283.6L381.6 282.9L382.9 282.2L384.3 281.6L385.6 281.0L387.0 280.3L388.4 279.7L389.7 279.1L391.1 278.5L392.5 277.9L393.9 277.3L395.3 276.8L396.7 276.2L398.0 275.6L399.4 275.0L400.8 274.5L402.2 273.9L403.6 273.3L405.0 272.7L406.4 272.2L407.8 271.6L409.2 271.0L410.5 270.4L411.9 269.8L413.3 269.1L414.6 268.5L416.0 267.9L417.4 267.2L418.7 266.6L420.1 265.9L421.4 265.3L422.8 264.6L424.1 264.0L425.5 263.3L426.8 262.6L428.2 262.0L429.5 261.3L430.9 260.7L432.2 260.0L433.6 259.4L435.0 258.7L436.3 258.1L437.7 257.5L439.1 256.9L440.4 256.3L441.8 255.6L443.2 255.0L444.6 254.4L446.0 253.9L447.3 253.3L448.7 252.7L450.1 252.1L451.5 251.5L452.9 250.9L454.3 250.4L455.7 249.8L457.1 249.2L458.4 248.6L459.8 248.1L461.2 247.5L462.6 247.0L464.0 246.4L465.4 245.8L466.8 245.3L468.2 244.7L469.6 244.1L471.0 243.6L472.4 243.0L473.8 242.4L475.2 241.9L476.6 241.3L478.0 240.8L479.4 240.2L480.8 239.6L482.2 239.1L483.6 238.6L485.0 238.0L486.4 237.5L487.8 237.0L489.2 236.5L490.6 236.0L492.1 235.5L493.5 235.1L494.9 234.6L496.4 234.2L497.8 233.8L499.3 233.5L500.7 233.1L502.2 232.7L503.7 232.3L505.1 232.0L506.6 231.5L508.0 231.1L509.4 230.6L510.8 230.1L512.2 229.6L513.6 229.0L515.0 228.5L516.4 227.9L517.9 227.4L519.3 226.9L520.7 226.4L522.1 226.0L523.6 225.6L525.0 225.2L526.5 224.8L527.9 224.4L529.4 224.0L530.9 223.6L532.3 223.3L533.8 223.0L535.3 222.7L536.7 222.4L538.2 222.2L539.7 221.9L541.2 221.7L542.7 221.5L544.2 221.3L545.7 221.1L547.1 220.9L548.6 220.7L550.1 220.5L551.6 220.3L553.1 220.1L554.6 219.8L556.1 219.6L557.6 219.4L559.1 219.2L560.6 219.0L562.1 218.9L563.6 218.8L565.1 218.8L566.6 218.8L568.1 218.8L569.6 218.8L571.2 218.8L572.7 218.8L574.2 218.8L575.7 218.8L577.2 218.8L578.6 218.8L580.0 218.7L581.4 218.4L582.7 217.8L584.0 217.0L585.3 216.1L586.5 215.2L587.8 214.2L589.1 213.2L590.4 212.3L591.7 211.6L593.1 211.0L594.5 210.6L595.9 210.1L597.4 209.7L598.8 209.3L600.3 209.0L601.8 208.6L603.3 208.3L604.7 207.9L606.2 207.5L607.6 207.1L609.1 206.7L610.5 206.3L612.0 205.8L613.4 205.4L614.9 205.0L616.3 204.6L617.8 204.3L619.2 203.9L620.7 203.6L622.2 203.3L623.6 203.0L625.1 202.7L626.6 202.4L628.1 202.1L629.6 201.9L631.1 201.6L632.6 201.5L634.1 201.3L635.5 201.2L637.0 201.2L638.5 201.1L640.0 201.1L641.6 201.0L643.1 201.0L644.6 200.9L646.1 200.9L647.6 200.8L649.1 200.8L650.6 200.7L652.1 200.5L653.6 200.4L655.1 200.2L656.5 199.9L658.0 199.7L659.5 199.4L661.0 199.1L662.5 198.9L663.9 198.6L665.4 198.2L666.8 197.8L668.3 197.4L669.7 197.0L671.2 196.5L672.6 196.1L674.0 195.6L675.5 195.1L676.9 194.7L678.3 194.2L679.8 193.8L681.2 193.3L682.6 192.8L684.0 192.3L685.5 191.8L686.9 191.4L688.3 190.9L689.8 190.4L691.2 190.0L692.6 189.6L694.1 189.2L695.6 188.9L697.0 188.5L698.5 188.2L699.9 187.8L701.4 187.5L702.9 187.1L704.3 186.8L705.8 186.4L707.2 186.0L708.7 185.5L710.1 185.0L711.5 184.5L713.0 184.0L714.4 183.5L715.8 183.1L717.3 182.7L718.7 182.3L720.2 182.0L721.6 181.7L723.1 181.5L724.6 181.3L726.2 181.2L727.7 181.0L729.2 180.8L730.7 180.7L732.1 180.4L733.6 180.2L735.0 179.9L736.4 179.4L737.8 178.9L739.1 178.3L740.5 177.5L741.8 176.8L743.2 176.0L744.5 175.3L745.8 174.6L747.2 173.9L748.6 173.3L749.9 172.6L751.3 172.0L752.7 171.3L754.1 170.7L755.4 170.1L756.8 169.5L758.2 168.9L759.6 168.5L761.1 168.0L762.5 167.7L764.0 167.3L765.4 166.9L766.9 166.6L768.4 166.3L769.9 166.0L771.4 165.8L772.9 165.6L774.4 165.5L775.8 165.5L777.3 165.6L778.8 165.7L780.3 165.8L781.8 166.0L783.3 166.2L784.8 166.3L786.3 166.5L787.8 166.6L789.3 166.7L790.8 166.8L792.3 166.8L793.8 166.8L795.4 166.8L796.9 166.9L798.4 166.9L799.9 166.9L801.4 166.9L802.9 167.0L804.4 167.0L805.9 167.1L807.4 167.2L808.9 167.5L810.3 167.7L811.8 168.0L813.3 168.2L814.8 168.4L816.3 168.6L817.8 168.7L819.3 168.7L820.8 168.7L822.3 168.6L823.8 168.4L825.3 168.2L826.8 168.0L828.3 167.8L829.8 167.7L831.3 167.6L832.8 167.5L834.2 167.6L835.7 167.9L837.1 168.5L838.5 169.1L839.9 169.8L841.3 170.5L842.7 171.2L844.1 171.8L845.5 172.3L847.0 172.5L848.5 172.5L849.9 172.5L851.4 172.5L853.0 172.4L854.5 172.4L856.0 172.3L857.5 172.3L859.0 172.2L860.5 172.1L862.0 172.0L863.4 171.8L864.9 171.5L866.3 171.0L867.7 170.4L869.0 169.7L870.4 169.0L871.8 168.3L873.2 167.7L874.6 167.1L876.0 166.6L877.5 166.1L878.9 165.7L880.3 165.2L881.7 164.7L883.2 164.2L884.6 163.8L886.1 163.4L887.5 163.0L889.0 162.6L890.4 162.3L891.9 162.0L893.4 161.7L894.8 161.4L896.3 161.1L897.8 160.9L899.3 160.7L900.8 160.4L902.3 160.2L903.8 160.0L905.3 159.8L906.8 159.6L908.3 159.5L909.8 159.4L911.3 159.2L912.8 159.1L914.3 158.9L915.8 158.8L917.2 158.5L918.7 158.3L920.1 157.8L921.4 157.3L922.8 156.6L924.2 155.9L925.5 155.1L926.8 154.4L928.2 153.7L929.6 153.0L930.9 152.4L932.4 152.0L933.8 151.5L935.2 151.0L936.7 150.5L938.2 150.1L939.6 149.7L941.1 149.4L942.6 149.2L944.1 149.0L945.5 149.0L947.0 149.1L948.5 149.2L950.0 149.5L951.5 149.7L953.0 150.0L954.5 150.4L955.9 150.7L957.4 151.0L958.9 151.2L960.4 151.5L961.9 151.7L963.4 152.0L964.8 152.2L966.3 152.5L967.8 152.7L969.3 153.0L970.8 153.2L972.3 153.5L973.7 153.7L975.2 154.0L976.7 154.3L978.2 154.7L979.7 155.0L981.1 155.3L982.6 155.6L984.1 155.9L985.6 156.1L987.1 156.2L988.6 156.2L990.0 156.2L991.5 156.2L993.0 156.1L994.6 156.1L996.1 156.0L997.6 155.9L999.1 155.8L1000.6 155.8L1002.1 155.8L1003.6 155.8L1005.1 155.8L1006.6 155.9L1008.1 156.0L1009.6 156.2L1011.1 156.4L1012.6 156.6L1014.1 156.9L1015.6 157.1L1017.0 157.4L1018.5 157.7L1019.9 158.1L1021.3 158.6L1022.7 159.1L1024.1 159.7L1025.5 160.3L1026.9 160.9L1028.3 161.5L1029.7 162.0L1031.2 162.5L1032.6 162.9L1034.1 163.3L1035.5 163.7L1037.0 164.2L1038.5 164.6L1039.9 164.9L1041.4 165.2L1042.9 165.4L1044.4 165.5L1045.9 165.5L1047.3 165.4L1048.8 165.2L1050.3 165.0L1051.8 164.7L1053.3 164.4L1054.8 164.2L1056.3 164.0L1057.8 163.8L1059.3 163.8L1060.8 163.8L1062.3 163.9L1063.8 164.2L1065.3 164.4L1066.8 164.7L1068.2 165.0L1069.7 165.2L1071.2 165.4L1072.7 165.5L1074.2 165.5L1075.7 165.4L1077.2 165.3L1078.7 165.2L1080.2 165.0L1081.7 164.8L1083.2 164.7L1084.7 164.6L1086.2 164.5L1087.7 164.5L1089.2 164.7L1090.7 164.9L1092.2 165.2L1093.6 165.6L1095.1 166.0L1096.6 166.4L1098.1 166.7L1099.5 166.9L1101.0 167.0L1102.5 167.0L1104.0 166.8L1105.6 166.7L1107.1 166.4L1108.6 166.2L1110.1 166.0L1111.6 165.7L1113.1 165.6L1114.5 165.5L1115.9 165.6L1117.3 165.9L1118.6 166.5L1119.9 167.2L1121.2 168.1L1122.4 169.1L1123.7 170.1L1125.0 171.0L1126.3 171.9L1127.7 172.6L1129.0 173.2L1130.4 173.9L1131.8 174.5L1133.1 175.1L1134.5 175.7L1135.9 176.3L1137.3 176.8L1138.8 177.3L1140.2 177.7L1141.7 178.1L1143.2 178.4L1144.7 178.7L1146.2 178.9L1147.7 179.2L1149.2 179.5L1150.6 179.9L1152.0 180.3L1153.3 180.8L1154.4 181.6L1155.6 182.5L1156.7 183.6L1157.7 184.7L1158.8 185.9L1159.9 187.0L1161.0 188.1L1162.1 189.2L1163.3 190.1L1164.5 191.0L1165.7 191.9L1166.9 192.7L1168.2 193.6L1169.4 194.4L1170.7 195.2L1172.0 196.0" stroke="#ff0000" stroke-width="5.5" stroke-dasharray="5.5 9.075" stroke-dashoffset="0"/>
<path d="M156.8 724.0L156.8 722.5L156.9 721.0L156.9 719.5L156.9 718.0L157.0 716.5L157.0 715.0L157.0 713.5L157.1 712.0L157.1 710.5L157.2 709.0L157.3 707.5L157.3 706.0L157.4 704.5L157.4 703.0L157.5 701.5L157.5 700.0L157.6 698.5L157.6 697.0L157.7 695.5L157.7 694.0L157.8 692.5L157.8 691.0L157.9 689.5L157.9 688.0L158.0 686.5L158.0 685.0L158.1 683.5L158.2 682.0L158.3 680.5L158.3 679.0L158.4 677.5L158.5 676.0L158.6 674.5L158.6 673.0L158.7 671.5L158.8 670.0L158.9 668.5L159.0 667.0L159.0 665.5L159.1 664.0L159.2 662.5L159.3 661.0L159.3 659.5L159.4 658.0L159.5 656.5L159.5 655.0L159.6 653.4L159.6 651.9L159.7 650.4L159.7 648.9L159.8 647.4L159.8 645.9L159.9 644.4L159.9 642.9L160.0 641.4L160.1 639.9L160.2 638.4L160.3 636.9L160.4 635.4L160.6 634.0L160.8 632.5L160.9 631.0L161.1 629.5L161.2 628.0L161.3 626.5L161.5 625.0L161.6 623.5L161.7 622.0L161.8 620.5L162.0 619.0L162.1 617.5L162.2 616.0L162.3 614.5L162.5 613.0L162.6 611.5L162.7 610.0L162.8 608.5L162.9 607.0L163.1 605.5L163.2 604.0L163.3 602.5L163.4 601.0L163.6 599.5L163.7 598.0L163.8 596.5L164.0 595.0L164.2 593.5L164.4 592.1L164.5 590.6L164.7 589.1L164.9 587.6L165.1 586.1L165.3 584.6L165.5 583.1L165.7 581.6L165.9 580.1L166.1 578.6L166.3 577.2L166.5 575.7L166.7 574.2L166.9 572.7L167.1 571.2L167.3 569.7L167.5 568.2L167.7 566.7L167.9 565.2L168.1 563.8L168.3 562.3L168.5 560.8L168.7 559.3L168.9 557.8L169.1 556.3L169.3 554.8L169.6 553.3L169.8 551.9L170.0 550.4L170.3 548.9L170.5 547.4L170.7 545.9L171.0 544.4L171.2 543.0L171.5 541.5L171.8 540.0L172.0 538.5L172.3 537.0L172.6 535.6L172.9 534.1L173.2 532.6L173.5 531.2L173.9 529.7L174.2 528.2L174.5 526.8L174.9 525.3L175.3 523.9L175.7 522.4L176.2 521.0L176.6 519.6L177.1 518.1L177.6 516.7L178.1 515.3L178.6 513.9L179.1 512.5L179.6 511.1L180.1 509.6L180.6 508.2L181.1 506.8L181.6 505.4L182.1 504.0L182.7 502.6L183.2 501.1L183.7 499.7L184.2 498.3L184.7 496.9L185.2 495.5L185.7 494.1L186.2 492.6L186.7 491.2L187.2 489.8L187.7 488.4L188.2 487.0L188.6 485.5L189.1 484.1L189.5 482.7L189.8 481.2L190.2 479.7L190.5 478.3L190.8 476.8L191.1 475.3L191.4 473.9L191.7 472.4L191.9 470.9L192.2 469.4L192.4 467.9L192.7 466.4L192.9 465.0L193.1 463.5L193.4 462.0L193.6 460.5L193.8 459.0L194.0 457.5L194.2 456.0L194.4 454.6L194.6 453.1L194.8 451.6L195.0 450.1L195.2 448.6L195.4 447.1L195.6 445.6L195.8 444.1L196.0 442.6L196.1 441.1L196.3 439.6L196.4 438.2L196.6 436.7L196.7 435.2L196.8 433.7L196.9 432.2L197.0 430.7L197.1 429.2L197.3 427.7L197.4 426.2L197.5 424.7L197.7 423.2L197.9 421.7L198.1 420.2L198.3 418.7L198.5 417.2L198.7 415.7L198.9 414.3L199.1 412.8L199.3 411.3L199.5 409.8L199.7 408.3L199.9 406.8L200.0 405.3L200.2 403.8L200.3 402.3L200.5 400.8L200.6 399.3L200.8 397.8L201.0 396.3L201.2 394.9L201.5 393.4L201.9 391.9L202.3 390.5L202.7 389.0L203.2 387.6L203.6 386.1L204.0 384.7L204.4 383.2L204.7 381.8L205.0 380.3L205.1 378.8L205.2 377.3L205.3 375.8L205.4 374.3L205.5 372.8L205.6 371.3L205.7 369.8L205.7 368.3L205.8 366.8L206.0 365.3L206.1 363.8L206.3 362.3L206.5 360.8L206.8 359.4L207.0 357.9L207.3 356.4L207.6 354.9L207.9 353.4L208.3 352.0L208.6 350.5L209.0 349.1L209.4 347.6L209.8 346.2L210.3 344.8L210.8 343.4L211.4 342.0L211.9 340.5L212.5 339.1L213.0 337.7L213.6 336.4L214.2 335.0L214.8 333.6L215.4 332.2L216.0 330.9L216.6 329.5L217.3 328.1L217.9 326.8L218.6 325.4L219.3 324.1L219.9 322.7L220.5 321.4L221.2 320.0L221.9 318.7L222.6 317.3L223.3 316.0L224.0 314.6L224.6 313.3L225.2 311.9L225.8 310.5L226.3 309.1L226.8 307.7L227.2 306.3L227.6 304.9L228.1 303.4L228.4 301.9L228.8 300.5L229.2 299.0L229.6 297.6L230.0 296.1L230.4 294.7L230.8 293.2L231.2 291.8L231.5 290.3L231.9 288.9L232.3 287.4L232.7 285.9L233.0 284.5L233.3 283.0L233.6 281.5L233.9 280.1L234.2 278.6L234.4 277.1L234.6 275.6L234.8 274.1L235.0 272.6L235.2 271.2L235.4 269.7L235.6 268.2L235.9 266.7L236.1 265.2L236.4 263.7L236.7 262.3L237.0 260.8L237.3 259.3L237.6 257.9L238.0 256.4L238.3 254.9L238.6 253.4L238.9 252.0L239.1 250.5L239.4 249.0L239.7 247.5L239.9 246.1L240.2 244.6L240.5 243.1L240.7 241.6L241.0 240.1L241.3 238.7L241.5 237.2L241.8 235.7L242.0 234.2L242.3 232.7L242.5 231.2L242.8 229.7L243.0 228.3L243.3 226.8L243.6 225.3L244.0 223.9L244.4 222.4L244.8 221.0L245.2 219.6L245.7 218.1L246.2 216.7L246.8 215.3L247.3 213.9L247.9 212.5L248.5 211.1L249.1 209.8L249.7 208.4L250.4 207.1L251.1 205.7L251.8 204.4L252.6 203.1L253.3 201.8L254.1 200.5L254.9 199.2L255.6 197.9L256.4 196.6L257.2 195.4L258.0 194.1L258.9 192.9L259.7 191.6L260.5 190.4L261.4 189.1L262.2 187.9L263.0 186.6L263.8 185.3L264.6 184.0L265.3 182.7L266.1 181.4L266.8 180.1L267.5 178.8L268.2 177.5L268.9 176.1L269.6 174.8L270.3 173.5L271.0 172.1L271.6 170.7L272.2 169.4L272.8 168.0L273.3 166.6L273.9 165.2L274.4 163.8L275.0 162.4L275.6 161.0L276.2 159.6L276.8 158.3L277.4 156.9L278.0 155.5L278.6 154.1L279.3 152.8L279.9 151.4L280.6 150.0L281.3 148.7L282.0 147.4L282.7 146.1L283.5 144.8L284.3 143.6L285.2 142.3L286.1 141.1L287.0 139.9L287.9 138.7L288.9 137.5L290.0 136.4L291.0 135.3L292.1 134.3L293.2 133.4L294.3 132.5L295.6 131.6L296.8 130.8L298.1 130.0L299.4 129.3L300.7 128.5L302.1 127.8L303.4 127.0L304.7 126.3L306.1 125.6L307.4 124.8L308.7 124.1L310.0 123.4L311.3 122.6L312.7 121.9L314.0 121.3L315.4 120.6L316.8 120.0L318.1 119.5L319.5 119.0L320.9 118.4L322.4 117.9L323.8 117.4L325.3 116.8L326.7 116.4L328.2 116.0L329.7 115.7L331.1 115.5L332.6 115.4L334.1 115.4L335.6 115.4L337.1 115.4L338.6 115.4L340.1 115.4L341.6 115.4L343.1 115.4L344.6 115.4L346.1 115.4L347.6 115.4L349.1 115.6L350.5 115.9L352.0 116.3L353.4 116.8L354.8 117.3L356.2 117.9L357.7 118.5L359.1 119.0L360.6 119.4L362.0 119.8L363.5 120.1L365.0 120.3L366.5 120.5L368.0 120.7L369.5 120.8L371.0 121.0L372.5 121.2L373.9 121.5L375.4 121.8L376.8 122.1L378.2 122.6L379.6 123.1L381.0 123.7L382.4 124.3L383.8 124.9L385.2 125.6L386.5 126.2L387.9 126.8L389.3 127.4L390.7 128.0L392.1 128.6L393.5 129.1L394.9 129.7L396.3 130.2L397.7 130.8L399.1 131.3L400.5 131.8L401.9 132.4L403.3 132.9L404.7 133.4L406.1 133.9L407.6 134.4L409.0 134.8L410.4 135.3L411.9 135.8L413.3 136.2L414.7 136.7L416.1 137.2L417.5 137.8L418.9 138.4L420.3 139.0L421.6 139.6L423.0 140.3L424.3 140.9L425.7 141.6L427.0 142.3L428.4 142.9L429.8 143.5L431.1 144.1L432.5 144.6L433.9 145.2L435.3 145.8L436.7 146.3L438.1 146.9L439.5 147.5L440.9 148.0L442.3 148.6L443.7 149.1L445.1 149.7L446.5 150.2L447.9 150.8L449.3 151.3L450.7 151.8L452.1 152.4L453.5 152.9L454.9 153.4L456.3 153.9L457.7 154.5L459.1 155.0L460.5 155.5L461.9 156.0L463.3 156.5L464.7 157.0L466.2 157.6L467.6 158.1L469.0 158.6L470.4 159.1L471.8 159.6L473.2 160.1L474.7 160.6L476.1 161.1L477.5 161.6L478.9 162.1L480.3 162.6L481.8 163.1L483.2 163.5L484.6 164.0L486.0 164.5L487.4 165.0L488.9 165.5L490.3 166.0L491.7 166.5L493.1 167.0L494.6 167.5L496.0 167.9L497.4 168.4L498.8 168.9L500.3 169.4L501.7 169.9L503.1 170.4L504.5 170.9L505.9 171.3L507.4 171.8L508.8 172.3L510.2 172.8L511.6 173.3L513.1 173.8L514.5 174.3L515.9 174.7L517.3 175.2L518.8 175.7L520.2 176.2L521.6 176.7L523.0 177.2L524.4 177.7L525.9 178.2L527.3 178.7L528.7 179.2L530.1 179.7L531.5 180.2L532.9 180.6L534.4 181.1L535.8 181.6L537.2 182.1L538.6 182.6L540.0 183.1L541.5 183.6L542.9 184.1L544.3 184.6L545.7 185.1L547.1 185.6L548.6 186.0L550.0 186.5L551.4 187.0L552.8 187.5L554.3 188.0L555.7 188.5L557.1 189.0L558.5 189.5L559.9 189.9L561.4 190.4L562.8 190.9L564.2 191.4L565.6 191.9L567.1 192.4L568.5 192.8L569.9 193.3L571.3 193.8L572.7 194.3L574.2 194.8L575.6 195.2L577.0 195.7L578.4 196.2L579.9 196.7L581.3 197.2L582.7 197.6L584.1 198.1L585.6 198.6L587.0 199.1L588.4 199.5L589.8 200.0L591.3 200.5L592.7 201.0L594.1 201.4L595.5 201.9L597.0 202.4L598.4 202.9L599.8 203.3L601.2 203.8L602.7 204.3L604.1 204.7L605.5 205.2L607.0 205.7L608.4 206.1L609.8 206.6L611.2 207.1L612.7 207.6L614.1 208.0L615.5 208.5L616.9 209.0L618.4 209.4L619.8 209.9L621.2 210.3L622.7 210.8L624.1 211.3L625.5 211.7L627.0 212.2L628.4 212.6L629.8 213.1L631.2 213.6L632.7 214.0L634.1 214.5L635.5 214.9L637.0 215.4L638.4 215.8L639.8 216.3L641.3 216.8L642.7 217.2L644.1 217.7L645.6 218.1L647.0 218.6L648.4 219.0L649.9 219.5L651.3 219.9L652.7 220.4L654.2 220.8L655.6 221.3L657.0 221.7L658.5 222.2L659.9 222.6L661.3 223.1L662.8 223.5L664.2 224.0L665.6 224.4L667.1 224.9L668.5 225.3L669.9 225.8L671.4 226.2L672.8 226.6L674.2 227.1L675.7 227.5L677.1 228.0L678.5 228.4L680.0 228.9L681.4 229.3L682.9 229.7L684.3 230.2L685.7 230.6L687.2 231.1L688.6 231.5L690.0 231.9L691.5 232.4L692.9 232.8L694.4 233.2L695.8 233.7L697.2 234.1L698.7 234.6L700.1 235.0L701.5 235.4L703.0 235.9L704.4 236.3L705.9 236.7L707.3 237.2L708.7 237.6L710.2 238.0L711.6 238.5L713.0 238.9L714.5 239.4L715.9 239.8L717.4 240.2L718.8 240.7L720.2 241.1L721.7 241.5L723.1 242.0L724.5 242.4L726.0 242.8L727.4 243.3L728.9 243.7L730.3 244.1L731.7 244.6L733.2 245.0L734.6 245.4L736.1 245.9L737.5 246.3L738.9 246.7L740.4 247.2L741.8 247.6L743.2 248.0L744.7 248.5L746.1 248.9L747.6 249.3L749.0 249.8L750.4 250.2L751.9 250.6L753.3 251.1L754.8 251.5L756.2 251.9L757.6 252.4L759.1 252.8L760.5 253.2L761.9 253.7L763.4 254.1L764.8 254.6L766.2 255.0L767.7 255.4L769.1 255.9L770.6 256.3L772.0 256.8L773.4 257.2L774.9 257.7L776.3 258.1L777.7 258.6L779.2 259.0L780.6 259.5L782.0 259.9L783.5 260.4L784.9 260.8L786.3 261.3L787.8 261.7L789.2 262.2L790.6 262.6L792.1 263.1L793.5 263.5L794.9 264.0L796.4 264.4L797.8 264.9L799.2 265.3L800.7 265.8L802.1 266.2L803.5 266.7L805.0 267.1L806.4 267.6L807.8 268.0L809.3 268.4L810.7 268.9L812.1 269.3L813.6 269.8L815.0 270.2L816.4 270.7L817.9 271.1L819.3 271.5L820.8 272.0L822.2 272.4L823.6 272.8L825.1 273.3L826.5 273.7L828.0 274.1L829.4 274.5L830.8 274.9L832.3 275.4L833.7 275.8L835.2 276.2L836.6 276.6L838.1 277.0L839.5 277.4L841.0 277.8L842.4 278.2L843.9 278.6L845.3 279.0L846.8 279.5L848.2 279.9L849.6 280.3L851.1 280.7L852.5 281.1L854.0 281.6L855.4 282.0L856.8 282.4L858.3 282.9L859.7 283.3L861.1 283.8L862.6 284.2L864.0 284.7L865.4 285.1L866.8 285.6L868.3 286.2L869.7 286.7L871.1 287.2L872.5 287.7L873.9 288.3L875.3 288.8L876.7 289.3L878.2 289.7L879.6 290.1L881.0 290.5L882.5 291.0L883.9 291.4L885.4 291.7L886.8 292.1L888.3 292.5L889.7 292.9L891.2 293.2L892.7 293.6L894.1 293.9L895.6 294.3L897.0 294.7L898.5 295.0L900.0 295.4L901.4 295.8L902.9 296.1L904.3 296.5L905.8 296.9L907.2 297.3L908.7 297.7L910.1 298.0L911.6 298.4L913.0 298.8L914.5 299.2L915.9 299.6L917.4 300.0L918.8 300.4L920.3 300.8L921.7 301.2L923.2 301.6L924.6 302.0L926.1 302.4L927.5 302.8L929.0 303.2L930.4 303.6L931.9 304.0L933.3 304.4L934.8 304.8L936.2 305.2L937.7 305.6L939.1 306.0L940.6 306.4L942.0 306.8L943.5 307.2L944.9 307.6L946.4 308.0L947.8 308.4L949.2 308.8L950.7 309.2L952.1 309.6L953.6 310.0L955.0 310.4L956.5 310.8L957.9 311.2L959.4 311.6L960.8 312.0L962.3 312.4L963.7 312.8L965.2 313.2L966.6 313.6L968.1 314.0L969.5 314.5L971.0 314.9L972.4 315.3L973.9 315.7L975.3 316.1L976.7 316.5L978.2 316.9L979.6 317.3L981.1 317.7L982.5 318.1L984.0 318.5L985.4 318.9L986.9 319.3L988.3 319.7L989.8 320.1L991.2 320.5L992.7 320.9L994.1 321.3L995.6 321.7L997.0 322.1L998.4 322.5L999.9 322.9L1001.3 323.4L1002.8 323.8L1004.2 324.2L1005.7 324.6L1007.1 325.0L1008.6 325.4L1010.0 325.8L1011.5 326.2L1012.9 326.7L1014.3 327.1L1015.8 327.5L1017.2 327.9L1018.7 328.3L1020.1 328.8L1021.5 329.3L1023.0 329.7L1024.4 330.2L1025.8 330.6L1027.3 331.1L1028.7 331.5L1030.2 331.9L1031.6 332.3L1033.1 332.6L1034.5 332.9L1036.0 333.2L1037.5 333.4L1039.0 333.7L1040.5 333.9L1042.0 334.1L1043.4 334.4L1044.9 334.7L1046.4 335.0L1047.8 335.4L1049.2 335.9L1050.6 336.4L1052.0 336.9L1053.4 337.5L1054.8 338.0L1056.2 338.6L1057.7 339.2L1059.1 339.7L1060.5 340.2L1061.9 340.6L1063.3 341.1L1064.8 341.6L1066.2 342.0L1067.6 342.5L1069.1 343.0L1070.5 343.4L1071.9 343.9L1073.4 344.3L1074.8 344.8L1076.2 345.2L1077.7 345.6L1079.1 346.0L1080.6 346.4L1082.0 346.9L1083.5 347.3L1084.9 347.6L1086.4 348.0L1087.8 348.4L1089.3 348.8L1090.7 349.1L1092.2 349.4L1093.7 349.8L1095.1 350.1L1096.6 350.4L1098.1 350.7L1099.5 351.0L1101.0 351.4L1102.5 351.7L1103.9 352.0L1105.4 352.3L1106.9 352.7L1108.3 353.0L1109.8 353.4L1111.2 353.7L1112.7 354.1L1114.2 354.5L1115.6 354.9L1117.1 355.3L1118.5 355.7L1120.0 356.1L1121.4 356.5L1122.8 357.0L1124.3 357.4L1125.7 357.8L1127.2 358.3L1128.6 358.7L1130.0 359.2L1131.5 359.6L1132.9 360.1L1134.3 360.6L1135.7 361.1L1137.1 361.6L1138.5 362.2L1139.9 362.8L1141.3 363.5L1142.7 364.3L1144.1 365.0L1145.5 365.8L1146.8 366.6L1148.2 367.4L1149.6 368.1L1151.0 368.8L1152.3 369.4L1153.7 370.0L1155.1 370.4L1156.5 370.8L1157.9 371.1L1159.3 371.2L1160.7 371.2L1162.1 371.1L1163.5 370.8L1164.9 370.4L1166.3 369.9L1167.7 369.3L1169.2 368.6L1170.6 367.8L1172.0 367.0" stroke="#00ff00" stroke-width="5.5" stroke-dasharray="5.5 9.075" stroke-dashoffset="0"/>
<path d="M271.00 1.05L1172.00 255.54" stroke="#000" stroke-width="1.95" stroke-dasharray="11.92 2.98 1.86 2.98" stroke-dashoffset="0"/>
</g>
<path d="M309.49 721.60L309.49 715.10M309.49 0.60L309.49 7.10M627.44 721.60L627.44 715.10M627.44 0.60L627.44 7.10M853.04 721.60L853.04 715.10M853.04 0.60L853.04 7.10M1028.03 721.60L1028.03 715.10M1028.03 0.60L1028.03 7.10M226.86 721.60L226.86 717.90M226.86 0.60L226.86 4.30M134.50 713.43L138.20 713.43M1171.00 713.43L1167.30 713.43M134.50 705.95L138.20 705.95M1171.00 705.95L1167.30 705.95M134.50 699.26L141.00 699.26M1171.00 699.26L1164.50 699.26M134.50 655.24L138.20 655.24M1171.00 655.24L1167.30 655.24M134.50 629.49L138.20 629.49M1171.00 629.49L1167.30 629.49M134.50 611.21L138.20 611.21M1171.00 611.21L1167.30 611.21M134.50 597.04L138.20 597.04M1171.00 597.04L1167.30 597.04M134.50 585.46L138.20 585.46M1171.00 585.46L1167.30 585.46M134.50 575.67L138.20 575.67M1171.00 575.67L1167.30 575.67M134.50 567.19L138.20 567.19M1171.00 567.19L1167.30 567.19M134.50 559.71L138.20 559.71M1171.00 559.71L1167.30 559.71M134.50 553.02L141.00 553.02M1171.00 553.02L1164.50 553.02M134.50 509.00L138.20 509.00M1171.00 509.00L1167.30 509.00M134.50 483.25L138.20 483.25M1171.00 483.25L1167.30 483.25M134.50 464.97L138.20 464.97M1171.00 464.97L1167.30 464.97M134.50 450.80L138.20 450.80M1171.00 450.80L1167.30 450.80M134.50 439.22L138.20 439.22M1171.00 439.22L1167.30 439.22M134.50 429.43L138.20 429.43M1171.00 429.43L1167.30 429.43M134.50 420.95L138.20 420.95M1171.00 420.95L1167.30 420.95M134.50 413.47L138.20 413.47M1171.00 413.47L1167.30 413.47M134.50 406.78L141.00 406.78M1171.00 406.78L1164.50 406.78M134.50 362.76L138.20 362.76M1171.00 362.76L1167.30 362.76M134.50 337.01L138.20 337.01M1171.00 337.01L1167.30 337.01M134.50 318.73L138.20 318.73M1171.00 318.73L1167.30 318.73M134.50 304.56L138.20 304.56M1171.00 304.56L1167.30 304.56M134.50 292.98L138.20 292.98M1171.00 292.98L1167.30 292.98M134.50 283.19L138.20 283.19M1171.00 283.19L1167.30 283.19M134.50 274.71L138.20 274.71M1171.00 274.71L1167.30 274.71M134.50 267.23L138.20 267.23M1171.00 267.23L1167.30 267.23M134.50 260.54L141.00 260.54M1171.00 260.54L1164.50 260.54M134.50 216.52L138.20 216.52M1171.00 216.52L1167.30 216.52M134.50 190.77L138.20 190.77M1171.00 190.77L1167.30 190.77M134.50 172.49L138.20 172.49M1171.00 172.49L1167.30 172.49M134.50 158.32L138.20 158.32M1171.00 158.32L1167.30 158.32M134.50 146.74L138.20 146.74M1171.00 146.74L1167.30 146.74M134.50 136.95L138.20 136.95M1171.00 136.95L1167.30 136.95M134.50 128.47L138.20 128.47M1171.00 128.47L1167.30 128.47M134.50 120.99L138.20 120.99M1171.00 120.99L1167.30 120.99M134.50 114.30L141.00 114.30M1171.00 114.30L1164.50 114.30M134.50 70.28L138.20 70.28M1171.00 70.28L1167.30 70.28M134.50 44.53L138.20 44.53M1171.00 44.53L1167.30 44.53M134.50 26.25L138.20 26.25M1171.00 26.25L1167.30 26.25M134.50 12.08L138.20 12.08M1171.00 12.08L1167.30 12.08" stroke="#000" stroke-width="1.3" fill="none"/>
<rect x="134.5" y="0.6" width="1036.5" height="721.0" fill="none" stroke="#000" stroke-width="1.5"/>
<rect x="187.3" y="547.8" width="723.0999999999999" height="154.60000000000002" rx="4" ry="4" fill="#fff" fill-opacity="0.8" stroke="#cccccc" stroke-opacity="0.8" stroke-width="1.4"/>
<path d="M197.4 572.8L270.2 572.8" stroke="#0000ff" stroke-width="5.5" fill="none"/>
<path d="M586.9 573.2L659.7 573.2" stroke="#0000ff" stroke-width="5.5" stroke-dasharray="5.5 9.075" fill="none"/>
<path d="M197.4 620.2L270.2 620.2" stroke="#ff0000" stroke-width="5.5" fill="none"/>
<path d="M586.9 621.5L659.7 621.5" stroke="#ff0000" stroke-width="5.5" stroke-dasharray="5.5 9.075" fill="none"/>
<path d="M197.4 667.7L270.2 667.7" stroke="#00ff00" stroke-width="5.5" fill="none"/>
<path d="M586.9 669.8L659.7 669.8" stroke="#00ff00" stroke-width="5.5" stroke-dasharray="5.5 9.075" fill="none"/>
<g font-family="'Liberation Serif', serif" fill="#000" stroke="#000" stroke-width="0.38" stroke-linejoin="round">
<text x="294.0" y="583.9" font-size="33.5">Reference 1<tspan dx="4.2">mm</tspan></text>
<text x="680.6" y="584.3" font-size="33.5">Reference 1<tspan dx="4.6">μm</tspan></text>
<text x="294.0" y="631.3" font-size="33.5">Zodi 1<tspan dx="4.2">mm</tspan></text>
<text x="680.6" y="632.6" font-size="33.5">Zodi 1<tspan dx="4.6">μm</tspan></text>
<text x="294.0" y="678.8" font-size="33.5">Fomalhaut 1<tspan dx="4.2">mm</tspan></text>
<text x="680.6" y="680.9" font-size="33.5">Fomalhaut 1<tspan dx="4.6">μm</tspan></text>
<text transform="translate(135.1 755.5) scale(1 1.075)" font-size="38.9" text-anchor="middle">80</text>
<text transform="translate(310.1 755.5) scale(1 1.075)" font-size="38.9" text-anchor="middle">100</text>
<text transform="translate(628.0 755.5) scale(1 1.075)" font-size="38.9" text-anchor="middle">150</text>
<text transform="translate(853.6 755.5) scale(1 1.075)" font-size="38.9" text-anchor="middle">200</text>
<text transform="translate(1028.6 755.5) scale(1 1.075)" font-size="38.9" text-anchor="middle">250</text>
<text transform="translate(1171.6 755.5) scale(1 1.075)" font-size="38.9" text-anchor="middle">300</text>
<text x="651.8" y="799.0" font-size="38.9" text-anchor="middle">r [au]</text>
<text transform="translate(82.7 716.8) scale(1 1.075)" font-size="38.9" text-anchor="end">10</text>
<text transform="translate(125.5 693.7) scale(1 1.075)" font-size="27.23" text-anchor="end">−12</text>
<text transform="translate(82.7 570.5) scale(1 1.075)" font-size="38.9" text-anchor="end">10</text>
<text transform="translate(125.5 547.4) scale(1 1.075)" font-size="27.23" text-anchor="end">−11</text>
<text transform="translate(82.7 424.3) scale(1 1.075)" font-size="38.9" text-anchor="end">10</text>
<text transform="translate(125.5 401.2) scale(1 1.075)" font-size="27.23" text-anchor="end">−10</text>
<text transform="translate(97.4 278.0) scale(1 1.075)" font-size="38.9" text-anchor="end">10</text>
<text transform="translate(125.5 254.9) scale(1 1.075)" font-size="27.23" text-anchor="end">−9</text>
<text transform="translate(97.4 131.8) scale(1 1.075)" font-size="38.9" text-anchor="end">10</text>
<text transform="translate(125.5 108.7) scale(1 1.075)" font-size="27.23" text-anchor="end">−8</text>
<text transform="translate(27.7 361.2) rotate(-90)" font-size="39.0" text-anchor="middle">Brightness [arbitrary units]</text>
<text x="771.0" y="137.2" font-size="38.9" font-style="italic">r</text>
<text x="812.3" y="122.8" font-size="28.0">3.5</text>
<path d="M793.2 114.5L809.4 114.5" stroke="#000" stroke-width="1.7" fill="none"/>
</g>
</svg>
</body></html>
